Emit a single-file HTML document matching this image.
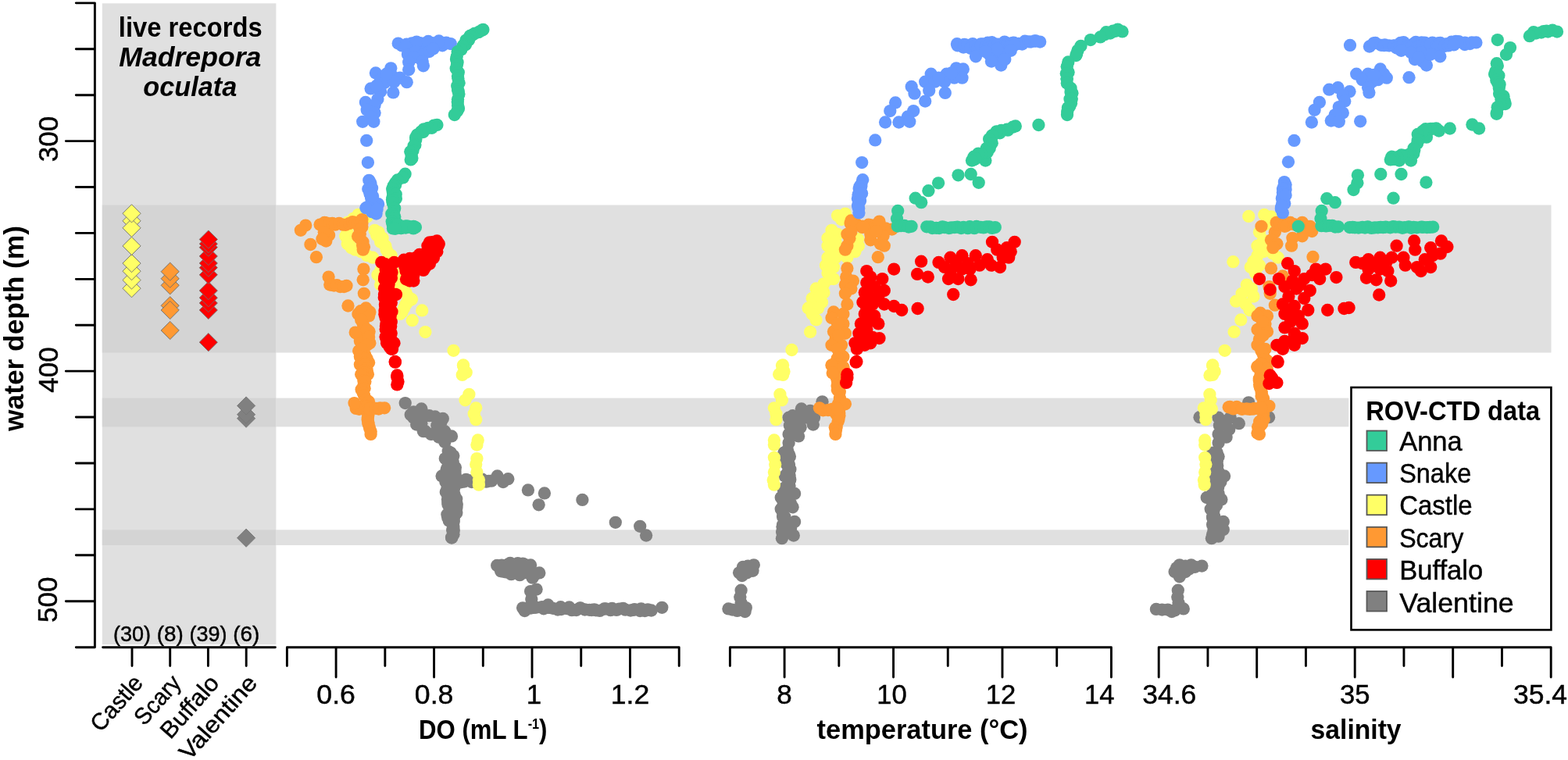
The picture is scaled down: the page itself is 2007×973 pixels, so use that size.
<!DOCTYPE html>
<html lang="en">
<head>
<meta charset="utf-8">
<title>ROV-CTD data: DO, temperature, salinity vs water depth</title>
<style>
html,body{margin:0;padding:0;background:#fff;}
body{width:2007px;height:973px;overflow:hidden;font-family:"Liberation Sans", sans-serif;}
svg{display:block;}
</style>
</head>
<body>
<svg width="2007" height="973" viewBox="0 0 2007 973" font-family='"Liberation Sans", sans-serif' fill="#000">
<rect x="0" y="0" width="2007" height="973" fill="#ffffff"/>
<rect x="353.5" y="262.5" width="1632.0" height="189.0" fill="#e0e0e0"/>
<rect x="353.5" y="509.6" width="1632.0" height="36.8" fill="#e0e0e0"/>
<rect x="353.5" y="678.3" width="1632.0" height="19.7" fill="#e0e0e0"/>
<rect x="130.8" y="4.3" width="222.6" height="820.9" fill="#e0e0e0"/>
<rect x="130.8" y="262.5" width="222.6" height="189.0" fill="#d4d4d4"/>
<rect x="130.8" y="509.6" width="222.6" height="36.8" fill="#d4d4d4"/>
<rect x="130.8" y="678.3" width="222.6" height="19.7" fill="#d4d4d4"/>
<g fill="#808080">
<circle cx="518.7" cy="516.1" r="8.15"/><circle cx="529.4" cy="527.3" r="8.15"/><circle cx="539.4" cy="523.5" r="8.15"/><circle cx="529.4" cy="534.7" r="8.15"/><circle cx="544.4" cy="532.2" r="8.15"/><circle cx="539.4" cy="542.2" r="8.15"/><circle cx="556.8" cy="533.5" r="8.15"/><circle cx="566.8" cy="536.0" r="8.15"/><circle cx="559.3" cy="544.7" r="8.15"/><circle cx="544.4" cy="552.2" r="8.15"/><circle cx="559.3" cy="554.7" r="8.15"/><circle cx="569.3" cy="552.2" r="8.15"/><circle cx="578.0" cy="558.4" r="8.15"/><circle cx="569.3" cy="565.9" r="8.15"/><circle cx="576.8" cy="579.6" r="8.15"/><circle cx="569.8" cy="587.1" r="8.15"/><circle cx="579.3" cy="594.5" r="8.15"/><circle cx="571.8" cy="602.0" r="8.15"/><circle cx="581.8" cy="602.0" r="8.15"/><circle cx="565.6" cy="609.5" r="8.15"/><circle cx="574.3" cy="614.5" r="8.15"/><circle cx="581.8" cy="619.4" r="8.15"/><circle cx="574.3" cy="629.4" r="8.15"/><circle cx="583.8" cy="639.4" r="8.15"/><circle cx="573.0" cy="639.4" r="8.15"/><circle cx="579.3" cy="651.8" r="8.15"/><circle cx="574.3" cy="661.8" r="8.15"/><circle cx="580.5" cy="666.8" r="8.15"/><circle cx="579.3" cy="679.2" r="8.15"/><circle cx="578.0" cy="688.0" r="8.15"/><circle cx="575.5" cy="621.9" r="8.15"/><circle cx="576.8" cy="646.8" r="8.15"/><circle cx="581.8" cy="617.0" r="8.15"/><circle cx="586.9" cy="617.0" r="8.15"/><circle cx="590.0" cy="617.3" r="8.15"/><circle cx="594.3" cy="616.5" r="8.15"/><circle cx="596.5" cy="613.8" r="8.15"/><circle cx="600.0" cy="615.1" r="8.15"/><circle cx="603.8" cy="617.0" r="8.15"/><circle cx="609.6" cy="616.2" r="8.15"/><circle cx="613.8" cy="616.4" r="8.15"/><circle cx="617.2" cy="613.7" r="8.15"/><circle cx="622.4" cy="616.7" r="8.15"/><circle cx="625.2" cy="615.8" r="8.15"/><circle cx="629.1" cy="615.7" r="8.15"/><circle cx="573.7" cy="577.8" r="8.15"/><circle cx="573.7" cy="582.9" r="8.15"/><circle cx="570.8" cy="587.2" r="8.15"/><circle cx="573.2" cy="591.2" r="8.15"/><circle cx="573.0" cy="598.6" r="8.15"/><circle cx="571.8" cy="600.5" r="8.15"/><circle cx="571.5" cy="605.9" r="8.15"/><circle cx="572.4" cy="609.9" r="8.15"/><circle cx="572.1" cy="612.1" r="8.15"/><circle cx="570.4" cy="617.0" r="8.15"/><circle cx="573.0" cy="621.5" r="8.15"/><circle cx="572.6" cy="624.6" r="8.15"/><circle cx="570.8" cy="629.9" r="8.15"/><circle cx="573.5" cy="635.9" r="8.15"/><circle cx="573.7" cy="638.5" r="8.15"/><circle cx="573.4" cy="643.1" r="8.15"/><circle cx="573.4" cy="645.7" r="8.15"/><circle cx="575.4" cy="649.9" r="8.15"/><circle cx="575.9" cy="656.8" r="8.15"/><circle cx="572.4" cy="658.8" r="8.15"/><circle cx="575.8" cy="664.7" r="8.15"/><circle cx="574.8" cy="666.8" r="8.15"/><circle cx="580.3" cy="583.6" r="8.15"/><circle cx="579.5" cy="590.2" r="8.15"/><circle cx="579.6" cy="592.6" r="8.15"/><circle cx="579.5" cy="596.3" r="8.15"/><circle cx="582.9" cy="598.6" r="8.15"/><circle cx="582.5" cy="604.0" r="8.15"/><circle cx="582.9" cy="608.6" r="8.15"/><circle cx="580.4" cy="613.3" r="8.15"/><circle cx="581.6" cy="613.7" r="8.15"/><circle cx="579.8" cy="619.4" r="8.15"/><circle cx="581.8" cy="622.8" r="8.15"/><circle cx="580.7" cy="627.1" r="8.15"/><circle cx="581.6" cy="633.3" r="8.15"/><circle cx="580.6" cy="637.1" r="8.15"/><circle cx="584.2" cy="638.7" r="8.15"/><circle cx="584.7" cy="645.2" r="8.15"/><circle cx="584.4" cy="647.5" r="8.15"/><circle cx="582.0" cy="651.9" r="8.15"/><circle cx="584.3" cy="656.7" r="8.15"/><circle cx="581.5" cy="660.0" r="8.15"/><circle cx="580.9" cy="662.5" r="8.15"/><circle cx="579.9" cy="669.6" r="8.15"/><circle cx="580.4" cy="674.0" r="8.15"/><circle cx="580.0" cy="675.3" r="8.15"/><circle cx="580.8" cy="679.0" r="8.15"/><circle cx="580.5" cy="684.2" r="8.15"/><circle cx="533.2" cy="543.5" r="8.15"/><circle cx="541.9" cy="552.2" r="8.15"/><circle cx="551.9" cy="555.9" r="8.15"/><circle cx="561.8" cy="559.7" r="8.15"/><circle cx="564.3" cy="541.0" r="8.15"/><circle cx="549.4" cy="532.2" r="8.15"/><circle cx="525.7" cy="531.0" r="8.15"/><circle cx="535.7" cy="534.7" r="8.15"/><circle cx="636.6" cy="609.5" r="8.15"/><circle cx="644.0" cy="617.0" r="8.15"/><circle cx="650.3" cy="613.2" r="8.15"/><circle cx="675.9" cy="627.4" r="8.15"/><circle cx="696.9" cy="631.4" r="8.15"/><circle cx="689.6" cy="646.3" r="8.15"/><circle cx="745.4" cy="639.9" r="8.15"/><circle cx="787.8" cy="668.8" r="8.15"/><circle cx="819.2" cy="673.8" r="8.15"/><circle cx="827.1" cy="685.5" r="8.15"/><circle cx="577.0" cy="645.0" r="8.15"/><circle cx="584.4" cy="650.0" r="8.15"/><circle cx="573.2" cy="662.4" r="8.15"/><circle cx="580.7" cy="667.4" r="8.15"/><circle cx="579.4" cy="677.4" r="8.15"/><circle cx="578.2" cy="688.6" r="8.15"/><circle cx="636.2" cy="724.0" r="8.15"/><circle cx="642.1" cy="723.6" r="8.15"/><circle cx="645.0" cy="724.1" r="8.15"/><circle cx="650.1" cy="722.7" r="8.15"/><circle cx="653.0" cy="720.9" r="8.15"/><circle cx="656.9" cy="722.6" r="8.15"/><circle cx="660.9" cy="723.5" r="8.15"/><circle cx="662.8" cy="721.2" r="8.15"/><circle cx="669.2" cy="721.6" r="8.15"/><circle cx="671.3" cy="722.6" r="8.15"/><circle cx="674.4" cy="724.3" r="8.15"/><circle cx="679.1" cy="723.5" r="8.15"/><circle cx="641.1" cy="731.2" r="8.15"/><circle cx="643.9" cy="731.7" r="8.15"/><circle cx="647.6" cy="732.4" r="8.15"/><circle cx="650.1" cy="731.8" r="8.15"/><circle cx="654.4" cy="735.2" r="8.15"/><circle cx="659.6" cy="732.8" r="8.15"/><circle cx="665.3" cy="736.2" r="8.15"/><circle cx="667.6" cy="733.1" r="8.15"/><circle cx="670.6" cy="733.3" r="8.15"/><circle cx="675.3" cy="733.6" r="8.15"/><circle cx="679.0" cy="734.6" r="8.15"/><circle cx="684.1" cy="735.9" r="8.15"/><circle cx="690.3" cy="733.4" r="8.15"/><circle cx="681.6" cy="739.7" r="8.15"/><circle cx="686.6" cy="754.6" r="8.15"/><circle cx="679.1" cy="757.1" r="8.15"/><circle cx="680.3" cy="767.1" r="8.15"/><circle cx="669.1" cy="778.3" r="8.15"/><circle cx="671.6" cy="782.0" r="8.15"/><circle cx="701.5" cy="774.5" r="8.15"/><circle cx="847.3" cy="777.8" r="8.15"/><circle cx="671.9" cy="779.8" r="8.15"/><circle cx="676.7" cy="778.0" r="8.15"/><circle cx="679.4" cy="778.5" r="8.15"/><circle cx="683.3" cy="777.9" r="8.15"/><circle cx="686.1" cy="777.7" r="8.15"/><circle cx="693.7" cy="777.2" r="8.15"/><circle cx="695.9" cy="779.3" r="8.15"/><circle cx="701.4" cy="777.7" r="8.15"/><circle cx="703.1" cy="777.9" r="8.15"/><circle cx="707.7" cy="778.8" r="8.15"/><circle cx="713.9" cy="780.5" r="8.15"/><circle cx="717.6" cy="777.2" r="8.15"/><circle cx="718.3" cy="780.1" r="8.15"/><circle cx="725.8" cy="779.2" r="8.15"/><circle cx="728.6" cy="777.4" r="8.15"/><circle cx="731.9" cy="781.2" r="8.15"/><circle cx="737.7" cy="781.0" r="8.15"/><circle cx="742.3" cy="778.6" r="8.15"/><circle cx="742.9" cy="778.3" r="8.15"/><circle cx="748.6" cy="780.5" r="8.15"/><circle cx="754.4" cy="780.8" r="8.15"/><circle cx="757.2" cy="781.0" r="8.15"/><circle cx="760.5" cy="780.3" r="8.15"/><circle cx="762.9" cy="781.3" r="8.15"/><circle cx="767.7" cy="781.9" r="8.15"/><circle cx="773.4" cy="779.5" r="8.15"/><circle cx="775.4" cy="779.4" r="8.15"/><circle cx="781.5" cy="781.2" r="8.15"/><circle cx="783.4" cy="778.8" r="8.15"/><circle cx="789.1" cy="780.9" r="8.15"/><circle cx="792.6" cy="779.6" r="8.15"/><circle cx="797.5" cy="778.8" r="8.15"/><circle cx="800.4" cy="780.7" r="8.15"/><circle cx="807.1" cy="781.5" r="8.15"/><circle cx="810.8" cy="780.9" r="8.15"/><circle cx="812.2" cy="780.1" r="8.15"/><circle cx="819.2" cy="782.0" r="8.15"/><circle cx="820.6" cy="779.3" r="8.15"/><circle cx="825.4" cy="782.0" r="8.15"/><circle cx="829.2" cy="780.5" r="8.15"/><circle cx="833.6" cy="781.5" r="8.15"/><circle cx="1052.5" cy="514.3" r="8.15"/><circle cx="1025.8" cy="523.5" r="8.15"/><circle cx="1037.0" cy="526.0" r="8.15"/><circle cx="1014.6" cy="532.2" r="8.15"/><circle cx="1009.6" cy="534.7" r="8.15"/><circle cx="1024.6" cy="534.7" r="8.15"/><circle cx="1042.0" cy="534.7" r="8.15"/><circle cx="1040.8" cy="543.5" r="8.15"/><circle cx="1010.9" cy="544.7" r="8.15"/><circle cx="1024.6" cy="547.2" r="8.15"/><circle cx="1009.6" cy="555.9" r="8.15"/><circle cx="1022.1" cy="558.4" r="8.15"/><circle cx="1009.6" cy="567.1" r="8.15"/><circle cx="1003.4" cy="579.6" r="8.15"/><circle cx="1010.9" cy="584.6" r="8.15"/><circle cx="1007.1" cy="594.5" r="8.15"/><circle cx="1009.6" cy="604.5" r="8.15"/><circle cx="1010.9" cy="614.5" r="8.15"/><circle cx="1004.6" cy="624.4" r="8.15"/><circle cx="1017.1" cy="631.9" r="8.15"/><circle cx="999.7" cy="636.9" r="8.15"/><circle cx="1012.1" cy="644.4" r="8.15"/><circle cx="999.7" cy="651.8" r="8.15"/><circle cx="1014.6" cy="649.3" r="8.15"/><circle cx="1002.1" cy="661.8" r="8.15"/><circle cx="1017.1" cy="668.0" r="8.15"/><circle cx="1002.1" cy="671.8" r="8.15"/><circle cx="1012.1" cy="676.7" r="8.15"/><circle cx="1015.8" cy="685.5" r="8.15"/><circle cx="1002.1" cy="684.2" r="8.15"/><circle cx="1000.9" cy="689.2" r="8.15"/><circle cx="1004.6" cy="609.5" r="8.15"/><circle cx="1007.1" cy="634.4" r="8.15"/><circle cx="1017.1" cy="542.2" r="8.15"/><circle cx="1032.0" cy="534.7" r="8.15"/><circle cx="1015.8" cy="552.2" r="8.15"/><circle cx="1007.9" cy="576.2" r="8.15"/><circle cx="1009.6" cy="581.3" r="8.15"/><circle cx="1008.1" cy="587.1" r="8.15"/><circle cx="1005.4" cy="591.6" r="8.15"/><circle cx="1008.8" cy="591.9" r="8.15"/><circle cx="1010.0" cy="594.9" r="8.15"/><circle cx="1011.4" cy="600.7" r="8.15"/><circle cx="1007.9" cy="605.6" r="8.15"/><circle cx="1008.6" cy="606.0" r="8.15"/><circle cx="1010.6" cy="609.0" r="8.15"/><circle cx="1011.3" cy="614.1" r="8.15"/><circle cx="1010.5" cy="622.3" r="8.15"/><circle cx="1008.9" cy="624.2" r="8.15"/><circle cx="1006.0" cy="623.9" r="8.15"/><circle cx="1003.1" cy="628.5" r="8.15"/><circle cx="1005.3" cy="634.0" r="8.15"/><circle cx="1004.6" cy="640.9" r="8.15"/><circle cx="1002.2" cy="641.1" r="8.15"/><circle cx="1005.2" cy="644.0" r="8.15"/><circle cx="1001.2" cy="650.1" r="8.15"/><circle cx="1001.8" cy="654.3" r="8.15"/><circle cx="1002.4" cy="659.8" r="8.15"/><circle cx="1004.4" cy="661.7" r="8.15"/><circle cx="1004.5" cy="667.5" r="8.15"/><circle cx="1001.5" cy="674.4" r="8.15"/><circle cx="1002.1" cy="673.8" r="8.15"/><circle cx="1001.1" cy="680.9" r="8.15"/><circle cx="1003.4" cy="684.2" r="8.15"/><circle cx="964.8" cy="723.3" r="8.15"/><circle cx="951.1" cy="725.8" r="8.15"/><circle cx="946.1" cy="733.3" r="8.15"/><circle cx="963.5" cy="730.8" r="8.15"/><circle cx="949.8" cy="737.0" r="8.15"/><circle cx="948.6" cy="755.7" r="8.15"/><circle cx="947.3" cy="764.4" r="8.15"/><circle cx="932.4" cy="779.4" r="8.15"/><circle cx="943.6" cy="781.9" r="8.15"/><circle cx="954.8" cy="778.1" r="8.15"/><circle cx="953.6" cy="783.1" r="8.15"/><circle cx="957.3" cy="724.6" r="8.15"/><circle cx="956.1" cy="733.3" r="8.15"/><circle cx="948.6" cy="771.9" r="8.15"/><circle cx="959.8" cy="728.3" r="8.15"/><circle cx="952.3" cy="730.8" r="8.15"/><circle cx="937.4" cy="780.6" r="8.15"/><circle cx="949.8" cy="780.6" r="8.15"/><circle cx="1598.2" cy="515.3" r="8.15"/><circle cx="1535.5" cy="534.2" r="8.15"/><circle cx="1624.1" cy="534.2" r="8.15"/><circle cx="1559.6" cy="534.7" r="8.15"/><circle cx="1574.6" cy="534.7" r="8.15"/><circle cx="1585.8" cy="542.2" r="8.15"/><circle cx="1560.9" cy="544.7" r="8.15"/><circle cx="1573.3" cy="549.7" r="8.15"/><circle cx="1559.6" cy="555.9" r="8.15"/><circle cx="1569.6" cy="559.7" r="8.15"/><circle cx="1559.6" cy="567.1" r="8.15"/><circle cx="1552.1" cy="579.6" r="8.15"/><circle cx="1559.6" cy="584.6" r="8.15"/><circle cx="1557.1" cy="594.5" r="8.15"/><circle cx="1559.6" cy="604.5" r="8.15"/><circle cx="1567.1" cy="609.5" r="8.15"/><circle cx="1559.6" cy="614.5" r="8.15"/><circle cx="1554.6" cy="624.4" r="8.15"/><circle cx="1544.7" cy="636.9" r="8.15"/><circle cx="1559.6" cy="631.9" r="8.15"/><circle cx="1563.4" cy="639.4" r="8.15"/><circle cx="1549.7" cy="651.8" r="8.15"/><circle cx="1552.1" cy="661.8" r="8.15"/><circle cx="1565.8" cy="668.0" r="8.15"/><circle cx="1552.1" cy="671.8" r="8.15"/><circle cx="1562.1" cy="676.7" r="8.15"/><circle cx="1565.8" cy="678.0" r="8.15"/><circle cx="1552.1" cy="684.2" r="8.15"/><circle cx="1550.9" cy="689.2" r="8.15"/><circle cx="1559.6" cy="686.7" r="8.15"/><circle cx="1557.1" cy="646.8" r="8.15"/><circle cx="1567.1" cy="539.7" r="8.15"/><circle cx="1556.8" cy="579.4" r="8.15"/><circle cx="1557.7" cy="579.5" r="8.15"/><circle cx="1556.0" cy="582.6" r="8.15"/><circle cx="1557.8" cy="586.0" r="8.15"/><circle cx="1557.8" cy="590.4" r="8.15"/><circle cx="1558.2" cy="596.3" r="8.15"/><circle cx="1558.7" cy="602.4" r="8.15"/><circle cx="1555.8" cy="606.1" r="8.15"/><circle cx="1558.7" cy="608.3" r="8.15"/><circle cx="1560.2" cy="613.8" r="8.15"/><circle cx="1558.6" cy="615.1" r="8.15"/><circle cx="1562.4" cy="616.9" r="8.15"/><circle cx="1559.2" cy="624.0" r="8.15"/><circle cx="1554.3" cy="627.6" r="8.15"/><circle cx="1557.0" cy="633.2" r="8.15"/><circle cx="1553.6" cy="637.3" r="8.15"/><circle cx="1554.6" cy="638.4" r="8.15"/><circle cx="1556.8" cy="639.9" r="8.15"/><circle cx="1555.6" cy="647.6" r="8.15"/><circle cx="1553.3" cy="653.2" r="8.15"/><circle cx="1553.3" cy="655.0" r="8.15"/><circle cx="1554.2" cy="660.9" r="8.15"/><circle cx="1552.2" cy="663.1" r="8.15"/><circle cx="1553.3" cy="667.9" r="8.15"/><circle cx="1555.7" cy="670.5" r="8.15"/><circle cx="1555.6" cy="675.3" r="8.15"/><circle cx="1553.5" cy="678.7" r="8.15"/><circle cx="1553.4" cy="684.2" r="8.15"/><circle cx="1553.4" cy="586.5" r="8.15"/><circle cx="1554.1" cy="589.6" r="8.15"/><circle cx="1553.0" cy="591.6" r="8.15"/><circle cx="1553.0" cy="596.5" r="8.15"/><circle cx="1554.5" cy="601.2" r="8.15"/><circle cx="1552.2" cy="604.8" r="8.15"/><circle cx="1555.8" cy="608.0" r="8.15"/><circle cx="1552.6" cy="610.9" r="8.15"/><circle cx="1552.5" cy="614.3" r="8.15"/><circle cx="1556.3" cy="619.9" r="8.15"/><circle cx="1554.3" cy="624.6" r="8.15"/><circle cx="1554.3" cy="627.9" r="8.15"/><circle cx="1552.1" cy="631.9" r="8.15"/><circle cx="1551.4" cy="635.8" r="8.15"/><circle cx="1549.7" cy="639.4" r="8.15"/><circle cx="1538.4" cy="724.6" r="8.15"/><circle cx="1524.7" cy="723.3" r="8.15"/><circle cx="1509.8" cy="723.3" r="8.15"/><circle cx="1503.6" cy="732.0" r="8.15"/><circle cx="1517.3" cy="732.0" r="8.15"/><circle cx="1509.8" cy="738.3" r="8.15"/><circle cx="1507.8" cy="755.7" r="8.15"/><circle cx="1507.3" cy="764.4" r="8.15"/><circle cx="1479.9" cy="779.9" r="8.15"/><circle cx="1494.8" cy="780.6" r="8.15"/><circle cx="1509.8" cy="778.1" r="8.15"/><circle cx="1514.8" cy="779.4" r="8.15"/><circle cx="1499.8" cy="783.1" r="8.15"/><circle cx="1529.7" cy="725.8" r="8.15"/><circle cx="1508.5" cy="771.9" r="8.15"/><circle cx="1517.3" cy="724.6" r="8.15"/><circle cx="1511.0" cy="729.5" r="8.15"/><circle cx="1506.1" cy="727.1" r="8.15"/><circle cx="1522.2" cy="728.3" r="8.15"/><circle cx="1503.6" cy="781.4" r="8.15"/><circle cx="1487.4" cy="780.6" r="8.15"/>
</g>
<g fill="#ffff66">
<circle cx="452.2" cy="279.9" r="8.15"/><circle cx="464.7" cy="273.6" r="8.15"/><circle cx="442.2" cy="302.3" r="8.15"/><circle cx="444.7" cy="312.2" r="8.15"/><circle cx="454.7" cy="319.7" r="8.15"/><circle cx="482.1" cy="301.0" r="8.15"/><circle cx="487.1" cy="309.8" r="8.15"/><circle cx="494.6" cy="319.7" r="8.15"/><circle cx="500.8" cy="327.2" r="8.15"/><circle cx="483.4" cy="352.1" r="8.15"/><circle cx="487.1" cy="364.6" r="8.15"/><circle cx="513.2" cy="357.1" r="8.15"/><circle cx="522.0" cy="379.5" r="8.15"/><circle cx="519.5" cy="389.5" r="8.15"/><circle cx="509.5" cy="357.1" r="8.15"/><circle cx="527.0" cy="383.2" r="8.15"/><circle cx="512.0" cy="401.9" r="8.15"/><circle cx="517.0" cy="372.0" r="8.15"/><circle cx="458.4" cy="274.9" r="8.15"/><circle cx="444.7" cy="284.8" r="8.15"/><circle cx="469.7" cy="277.4" r="8.15"/><circle cx="444.7" cy="297.3" r="8.15"/><circle cx="447.2" cy="307.3" r="8.15"/><circle cx="449.7" cy="317.2" r="8.15"/><circle cx="462.2" cy="322.2" r="8.15"/><circle cx="469.7" cy="327.2" r="8.15"/><circle cx="477.1" cy="329.7" r="8.15"/><circle cx="479.6" cy="294.8" r="8.15"/><circle cx="484.6" cy="297.3" r="8.15"/><circle cx="489.6" cy="304.8" r="8.15"/><circle cx="493.3" cy="314.7" r="8.15"/><circle cx="497.1" cy="324.7" r="8.15"/><circle cx="499.5" cy="332.2" r="8.15"/><circle cx="487.1" cy="347.1" r="8.15"/><circle cx="488.3" cy="359.6" r="8.15"/><circle cx="504.5" cy="349.6" r="8.15"/><circle cx="509.5" cy="364.6" r="8.15"/><circle cx="519.5" cy="374.5" r="8.15"/><circle cx="524.5" cy="384.5" r="8.15"/><circle cx="517.0" cy="394.5" r="8.15"/><circle cx="514.5" cy="399.4" r="8.15"/><circle cx="540.2" cy="397.4" r="8.15"/><circle cx="527.7" cy="410.2" r="8.15"/><circle cx="544.4" cy="425.1" r="8.15"/><circle cx="580.5" cy="448.8" r="8.15"/><circle cx="593.0" cy="468.0" r="8.15"/><circle cx="596.7" cy="476.7" r="8.15"/><circle cx="593.0" cy="467.5" r="8.15"/><circle cx="594.2" cy="474.9" r="8.15"/><circle cx="591.7" cy="479.9" r="8.15"/><circle cx="600.4" cy="504.8" r="8.15"/><circle cx="595.5" cy="512.3" r="8.15"/><circle cx="609.2" cy="522.3" r="8.15"/><circle cx="606.7" cy="529.8" r="8.15"/><circle cx="609.2" cy="537.2" r="8.15"/><circle cx="611.7" cy="563.4" r="8.15"/><circle cx="610.4" cy="569.6" r="8.15"/><circle cx="610.4" cy="587.1" r="8.15"/><circle cx="609.2" cy="594.5" r="8.15"/><circle cx="610.4" cy="604.5" r="8.15"/><circle cx="612.9" cy="614.5" r="8.15"/><circle cx="612.9" cy="620.7" r="8.15"/><circle cx="1098.1" cy="306.0" r="8.15"/><circle cx="1098.9" cy="314.7" r="8.15"/><circle cx="1094.4" cy="322.2" r="8.15"/><circle cx="1072.0" cy="276.1" r="8.15"/><circle cx="1081.9" cy="273.6" r="8.15"/><circle cx="1077.0" cy="281.1" r="8.15"/><circle cx="1064.5" cy="294.8" r="8.15"/><circle cx="1072.0" cy="299.8" r="8.15"/><circle cx="1059.5" cy="304.8" r="8.15"/><circle cx="1059.5" cy="314.7" r="8.15"/><circle cx="1067.0" cy="319.7" r="8.15"/><circle cx="1079.4" cy="322.2" r="8.15"/><circle cx="1084.4" cy="329.7" r="8.15"/><circle cx="1059.5" cy="329.7" r="8.15"/><circle cx="1057.0" cy="339.7" r="8.15"/><circle cx="1067.0" cy="342.1" r="8.15"/><circle cx="1059.5" cy="349.6" r="8.15"/><circle cx="1067.0" cy="357.1" r="8.15"/><circle cx="1054.5" cy="363.3" r="8.15"/><circle cx="1044.6" cy="369.5" r="8.15"/><circle cx="1054.5" cy="374.5" r="8.15"/><circle cx="1039.6" cy="382.0" r="8.15"/><circle cx="1052.0" cy="387.0" r="8.15"/><circle cx="1034.6" cy="394.5" r="8.15"/><circle cx="1047.1" cy="394.5" r="8.15"/><circle cx="1039.6" cy="401.9" r="8.15"/><circle cx="1044.6" cy="409.4" r="8.15"/><circle cx="1037.1" cy="424.9" r="8.15"/><circle cx="1013.4" cy="448.0" r="8.15"/><circle cx="1001.0" cy="468.0" r="8.15"/><circle cx="1003.5" cy="475.4" r="8.15"/><circle cx="997.2" cy="479.2" r="8.15"/><circle cx="1069.5" cy="309.8" r="8.15"/><circle cx="1069.5" cy="329.7" r="8.15"/><circle cx="1062.0" cy="357.1" r="8.15"/><circle cx="1049.5" cy="379.5" r="8.15"/><circle cx="1002.1" cy="467.5" r="8.15"/><circle cx="1000.9" cy="474.9" r="8.15"/><circle cx="1002.1" cy="479.9" r="8.15"/><circle cx="998.4" cy="504.8" r="8.15"/><circle cx="1000.9" cy="512.3" r="8.15"/><circle cx="990.9" cy="522.3" r="8.15"/><circle cx="993.4" cy="529.8" r="8.15"/><circle cx="993.4" cy="537.2" r="8.15"/><circle cx="990.9" cy="563.4" r="8.15"/><circle cx="990.9" cy="569.6" r="8.15"/><circle cx="990.9" cy="585.8" r="8.15"/><circle cx="992.2" cy="594.5" r="8.15"/><circle cx="990.9" cy="604.5" r="8.15"/><circle cx="989.7" cy="614.5" r="8.15"/><circle cx="990.9" cy="620.7" r="8.15"/><circle cx="1598.3" cy="276.9" r="8.15"/><circle cx="1618.2" cy="274.9" r="8.15"/><circle cx="1627.0" cy="277.4" r="8.15"/><circle cx="1612.0" cy="297.3" r="8.15"/><circle cx="1617.0" cy="307.3" r="8.15"/><circle cx="1609.5" cy="314.7" r="8.15"/><circle cx="1617.0" cy="322.2" r="8.15"/><circle cx="1629.4" cy="324.7" r="8.15"/><circle cx="1635.7" cy="329.7" r="8.15"/><circle cx="1609.5" cy="327.2" r="8.15"/><circle cx="1578.4" cy="335.2" r="8.15"/><circle cx="1600.8" cy="342.1" r="8.15"/><circle cx="1612.0" cy="339.7" r="8.15"/><circle cx="1595.8" cy="364.6" r="8.15"/><circle cx="1602.0" cy="369.5" r="8.15"/><circle cx="1589.6" cy="375.8" r="8.15"/><circle cx="1604.5" cy="379.5" r="8.15"/><circle cx="1582.1" cy="385.7" r="8.15"/><circle cx="1594.6" cy="389.5" r="8.15"/><circle cx="1599.5" cy="397.0" r="8.15"/><circle cx="1588.3" cy="409.4" r="8.15"/><circle cx="1579.6" cy="424.9" r="8.15"/><circle cx="1567.7" cy="448.8" r="8.15"/><circle cx="1552.2" cy="468.0" r="8.15"/><circle cx="1554.7" cy="475.4" r="8.15"/><circle cx="1548.5" cy="480.4" r="8.15"/><circle cx="1619.5" cy="287.3" r="8.15"/><circle cx="1622.0" cy="317.2" r="8.15"/><circle cx="1604.5" cy="334.7" r="8.15"/><circle cx="1607.0" cy="349.6" r="8.15"/><circle cx="1552.1" cy="467.5" r="8.15"/><circle cx="1553.4" cy="474.9" r="8.15"/><circle cx="1552.1" cy="479.9" r="8.15"/><circle cx="1548.4" cy="504.8" r="8.15"/><circle cx="1549.7" cy="512.3" r="8.15"/><circle cx="1540.9" cy="522.3" r="8.15"/><circle cx="1550.9" cy="523.5" r="8.15"/><circle cx="1543.4" cy="531.0" r="8.15"/><circle cx="1543.4" cy="537.2" r="8.15"/><circle cx="1542.2" cy="563.4" r="8.15"/><circle cx="1542.2" cy="569.6" r="8.15"/><circle cx="1542.2" cy="585.8" r="8.15"/><circle cx="1543.4" cy="594.5" r="8.15"/><circle cx="1542.2" cy="604.5" r="8.15"/><circle cx="1540.9" cy="614.5" r="8.15"/><circle cx="1541.7" cy="620.7" r="8.15"/>
</g>
<g fill="#ff9933">
<circle cx="409.6" cy="287.6" r="8.15"/><circle cx="415.3" cy="284.9" r="8.15"/><circle cx="417.1" cy="285.3" r="8.15"/><circle cx="421.2" cy="286.4" r="8.15"/><circle cx="425.4" cy="285.8" r="8.15"/><circle cx="429.0" cy="287.7" r="8.15"/><circle cx="434.0" cy="285.9" r="8.15"/><circle cx="439.0" cy="287.7" r="8.15"/><circle cx="442.5" cy="287.8" r="8.15"/><circle cx="446.9" cy="286.2" r="8.15"/><circle cx="451.2" cy="284.2" r="8.15"/><circle cx="454.9" cy="284.8" r="8.15"/><circle cx="457.3" cy="287.3" r="8.15"/><circle cx="463.4" cy="286.1" r="8.15"/><circle cx="421.1" cy="301.0" r="8.15"/><circle cx="417.3" cy="308.5" r="8.15"/><circle cx="463.4" cy="281.1" r="8.15"/><circle cx="391.2" cy="288.6" r="8.15"/><circle cx="384.9" cy="294.8" r="8.15"/><circle cx="397.4" cy="313.0" r="8.15"/><circle cx="404.9" cy="329.2" r="8.15"/><circle cx="414.8" cy="297.3" r="8.15"/><circle cx="412.4" cy="306.0" r="8.15"/><circle cx="420.6" cy="354.6" r="8.15"/><circle cx="422.3" cy="364.6" r="8.15"/><circle cx="445.5" cy="391.5" r="8.15"/><circle cx="462.1" cy="286.0" r="8.15"/><circle cx="463.4" cy="290.4" r="8.15"/><circle cx="460.9" cy="294.3" r="8.15"/><circle cx="460.8" cy="299.4" r="8.15"/><circle cx="458.1" cy="302.5" r="8.15"/><circle cx="460.5" cy="305.1" r="8.15"/><circle cx="464.5" cy="309.8" r="8.15"/><circle cx="464.1" cy="314.1" r="8.15"/><circle cx="465.9" cy="316.2" r="8.15"/><circle cx="464.7" cy="319.7" r="8.15"/><circle cx="465.4" cy="344.6" r="8.15"/><circle cx="464.7" cy="358.3" r="8.15"/><circle cx="465.9" cy="375.8" r="8.15"/><circle cx="424.0" cy="364.6" r="8.15"/><circle cx="427.6" cy="365.6" r="8.15"/><circle cx="431.3" cy="365.2" r="8.15"/><circle cx="435.4" cy="367.1" r="8.15"/><circle cx="440.3" cy="367.1" r="8.15"/><circle cx="443.5" cy="365.8" r="8.15"/><circle cx="458.4" cy="401.9" r="8.15"/><circle cx="473.4" cy="399.4" r="8.15"/><circle cx="464.7" cy="414.4" r="8.15"/><circle cx="464.7" cy="429.3" r="8.15"/><circle cx="472.6" cy="424.4" r="8.15"/><circle cx="473.4" cy="439.3" r="8.15"/><circle cx="459.2" cy="449.3" r="8.15"/><circle cx="467.2" cy="454.3" r="8.15"/><circle cx="472.1" cy="464.2" r="8.15"/><circle cx="469.7" cy="459.2" r="8.15"/><circle cx="460.9" cy="466.7" r="8.15"/><circle cx="470.9" cy="479.2" r="8.15"/><circle cx="455.9" cy="426.8" r="8.15"/><circle cx="460.9" cy="436.8" r="8.15"/><circle cx="468.4" cy="394.5" r="8.15"/><circle cx="461.7" cy="398.2" r="8.15"/><circle cx="464.7" cy="399.4" r="8.15"/><circle cx="472.1" cy="404.4" r="8.15"/><circle cx="462.2" cy="409.4" r="8.15"/><circle cx="454.7" cy="425.6" r="8.15"/><circle cx="469.7" cy="421.9" r="8.15"/><circle cx="472.1" cy="431.8" r="8.15"/><circle cx="469.7" cy="441.8" r="8.15"/><circle cx="462.2" cy="446.8" r="8.15"/><circle cx="460.9" cy="456.7" r="8.15"/><circle cx="465.9" cy="469.2" r="8.15"/><circle cx="469.7" cy="474.2" r="8.15"/><circle cx="462.2" cy="479.2" r="8.15"/><circle cx="467.2" cy="459.7" r="8.15"/><circle cx="466.7" cy="464.7" r="8.15"/><circle cx="467.1" cy="466.7" r="8.15"/><circle cx="469.2" cy="471.9" r="8.15"/><circle cx="466.5" cy="474.6" r="8.15"/><circle cx="466.7" cy="477.2" r="8.15"/><circle cx="464.3" cy="479.3" r="8.15"/><circle cx="464.1" cy="481.8" r="8.15"/><circle cx="465.4" cy="487.5" r="8.15"/><circle cx="467.4" cy="488.5" r="8.15"/><circle cx="465.1" cy="494.6" r="8.15"/><circle cx="466.6" cy="497.2" r="8.15"/><circle cx="462.6" cy="498.8" r="8.15"/><circle cx="464.7" cy="503.0" r="8.15"/><circle cx="466.2" cy="506.3" r="8.15"/><circle cx="468.7" cy="511.7" r="8.15"/><circle cx="472.0" cy="514.2" r="8.15"/><circle cx="469.5" cy="520.0" r="8.15"/><circle cx="470.1" cy="521.7" r="8.15"/><circle cx="469.3" cy="526.0" r="8.15"/><circle cx="471.6" cy="530.6" r="8.15"/><circle cx="470.9" cy="534.8" r="8.15"/><circle cx="470.6" cy="537.1" r="8.15"/><circle cx="471.3" cy="541.0" r="8.15"/><circle cx="471.6" cy="542.8" r="8.15"/><circle cx="473.0" cy="547.4" r="8.15"/><circle cx="474.6" cy="552.3" r="8.15"/><circle cx="474.6" cy="555.9" r="8.15"/><circle cx="455.7" cy="522.9" r="8.15"/><circle cx="459.7" cy="523.8" r="8.15"/><circle cx="462.6" cy="521.6" r="8.15"/><circle cx="469.1" cy="520.9" r="8.15"/><circle cx="472.2" cy="522.9" r="8.15"/><circle cx="473.6" cy="523.6" r="8.15"/><circle cx="481.2" cy="522.8" r="8.15"/><circle cx="484.7" cy="523.5" r="8.15"/><circle cx="486.5" cy="522.4" r="8.15"/><circle cx="492.1" cy="522.3" r="8.15"/><circle cx="453.5" cy="516.1" r="8.15"/><circle cx="1088.6" cy="285.7" r="8.15"/><circle cx="1089.4" cy="287.3" r="8.15"/><circle cx="1094.8" cy="287.6" r="8.15"/><circle cx="1096.8" cy="287.4" r="8.15"/><circle cx="1103.7" cy="291.1" r="8.15"/><circle cx="1104.2" cy="289.9" r="8.15"/><circle cx="1111.7" cy="287.7" r="8.15"/><circle cx="1116.0" cy="288.5" r="8.15"/><circle cx="1118.7" cy="291.1" r="8.15"/><circle cx="1122.8" cy="290.4" r="8.15"/><circle cx="1125.7" cy="292.2" r="8.15"/><circle cx="1129.6" cy="293.0" r="8.15"/><circle cx="1133.6" cy="292.4" r="8.15"/><circle cx="1135.4" cy="293.7" r="8.15"/><circle cx="1141.7" cy="293.6" r="8.15"/><circle cx="1125.5" cy="283.6" r="8.15"/><circle cx="1089.4" cy="282.4" r="8.15"/><circle cx="1084.4" cy="299.8" r="8.15"/><circle cx="1087.4" cy="305.3" r="8.15"/><circle cx="1084.4" cy="314.7" r="8.15"/><circle cx="1081.9" cy="319.7" r="8.15"/><circle cx="1089.4" cy="296.8" r="8.15"/><circle cx="1114.3" cy="307.3" r="8.15"/><circle cx="1130.5" cy="302.3" r="8.15"/><circle cx="1126.8" cy="312.2" r="8.15"/><circle cx="1131.8" cy="314.7" r="8.15"/><circle cx="1114.3" cy="299.8" r="8.15"/><circle cx="1123.8" cy="329.2" r="8.15"/><circle cx="1104.4" cy="289.8" r="8.15"/><circle cx="1121.8" cy="296.1" r="8.15"/><circle cx="1084.4" cy="343.4" r="8.15"/><circle cx="1083.2" cy="354.6" r="8.15"/><circle cx="1091.9" cy="359.6" r="8.15"/><circle cx="1081.9" cy="364.6" r="8.15"/><circle cx="1089.4" cy="369.5" r="8.15"/><circle cx="1081.9" cy="375.8" r="8.15"/><circle cx="1084.4" cy="389.5" r="8.15"/><circle cx="1067.0" cy="399.4" r="8.15"/><circle cx="1079.4" cy="401.9" r="8.15"/><circle cx="1064.5" cy="406.9" r="8.15"/><circle cx="1079.4" cy="414.4" r="8.15"/><circle cx="1067.0" cy="424.4" r="8.15"/><circle cx="1081.9" cy="426.8" r="8.15"/><circle cx="1069.5" cy="434.3" r="8.15"/><circle cx="1077.0" cy="441.8" r="8.15"/><circle cx="1064.5" cy="441.8" r="8.15"/><circle cx="1074.5" cy="451.8" r="8.15"/><circle cx="1079.4" cy="456.7" r="8.15"/><circle cx="1069.5" cy="464.2" r="8.15"/><circle cx="1067.0" cy="470.4" r="8.15"/><circle cx="1079.4" cy="471.7" r="8.15"/><circle cx="1074.5" cy="479.2" r="8.15"/><circle cx="1072.0" cy="414.4" r="8.15"/><circle cx="1073.2" cy="429.3" r="8.15"/><circle cx="1072.0" cy="446.8" r="8.15"/><circle cx="1071.8" cy="458.7" r="8.15"/><circle cx="1074.0" cy="465.6" r="8.15"/><circle cx="1073.4" cy="466.7" r="8.15"/><circle cx="1074.3" cy="470.5" r="8.15"/><circle cx="1071.3" cy="476.3" r="8.15"/><circle cx="1069.9" cy="480.5" r="8.15"/><circle cx="1070.7" cy="482.6" r="8.15"/><circle cx="1071.6" cy="486.6" r="8.15"/><circle cx="1072.4" cy="493.8" r="8.15"/><circle cx="1071.6" cy="493.9" r="8.15"/><circle cx="1071.9" cy="499.2" r="8.15"/><circle cx="1074.8" cy="501.8" r="8.15"/><circle cx="1074.9" cy="509.8" r="8.15"/><circle cx="1074.9" cy="512.6" r="8.15"/><circle cx="1072.9" cy="517.2" r="8.15"/><circle cx="1073.9" cy="521.1" r="8.15"/><circle cx="1075.5" cy="521.1" r="8.15"/><circle cx="1074.3" cy="528.9" r="8.15"/><circle cx="1070.2" cy="530.0" r="8.15"/><circle cx="1073.2" cy="533.0" r="8.15"/><circle cx="1073.5" cy="536.9" r="8.15"/><circle cx="1072.6" cy="539.6" r="8.15"/><circle cx="1070.7" cy="546.8" r="8.15"/><circle cx="1068.8" cy="547.3" r="8.15"/><circle cx="1069.9" cy="551.3" r="8.15"/><circle cx="1069.4" cy="555.9" r="8.15"/><circle cx="1064.4" cy="467.5" r="8.15"/><circle cx="1079.4" cy="470.0" r="8.15"/><circle cx="1081.9" cy="517.3" r="8.15"/><circle cx="1074.4" cy="532.2" r="8.15"/><circle cx="1065.7" cy="477.4" r="8.15"/><circle cx="1048.9" cy="522.3" r="8.15"/><circle cx="1053.6" cy="525.3" r="8.15"/><circle cx="1059.9" cy="525.1" r="8.15"/><circle cx="1062.1" cy="524.7" r="8.15"/><circle cx="1066.1" cy="523.7" r="8.15"/><circle cx="1071.9" cy="523.5" r="8.15"/><circle cx="1614.5" cy="289.8" r="8.15"/><circle cx="1666.8" cy="284.8" r="8.15"/><circle cx="1679.3" cy="296.1" r="8.15"/><circle cx="1666.8" cy="302.3" r="8.15"/><circle cx="1654.4" cy="304.8" r="8.15"/><circle cx="1653.1" cy="314.7" r="8.15"/><circle cx="1631.9" cy="297.3" r="8.15"/><circle cx="1627.0" cy="307.3" r="8.15"/><circle cx="1634.4" cy="312.2" r="8.15"/><circle cx="1629.4" cy="317.2" r="8.15"/><circle cx="1680.5" cy="328.9" r="8.15"/><circle cx="1644.4" cy="289.8" r="8.15"/><circle cx="1674.3" cy="292.3" r="8.15"/><circle cx="1633.6" cy="285.0" r="8.15"/><circle cx="1635.6" cy="287.5" r="8.15"/><circle cx="1638.6" cy="286.7" r="8.15"/><circle cx="1643.6" cy="287.5" r="8.15"/><circle cx="1646.4" cy="289.1" r="8.15"/><circle cx="1651.6" cy="284.9" r="8.15"/><circle cx="1655.3" cy="287.1" r="8.15"/><circle cx="1658.0" cy="287.6" r="8.15"/><circle cx="1664.1" cy="289.5" r="8.15"/><circle cx="1667.9" cy="287.7" r="8.15"/><circle cx="1671.3" cy="290.6" r="8.15"/><circle cx="1676.8" cy="289.8" r="8.15"/><circle cx="1627.0" cy="343.4" r="8.15"/><circle cx="1641.9" cy="353.4" r="8.15"/><circle cx="1624.5" cy="367.1" r="8.15"/><circle cx="1625.7" cy="375.8" r="8.15"/><circle cx="1631.9" cy="390.7" r="8.15"/><circle cx="1613.2" cy="400.7" r="8.15"/><circle cx="1622.0" cy="404.4" r="8.15"/><circle cx="1609.5" cy="404.4" r="8.15"/><circle cx="1619.5" cy="414.4" r="8.15"/><circle cx="1609.5" cy="421.9" r="8.15"/><circle cx="1622.0" cy="424.4" r="8.15"/><circle cx="1612.0" cy="434.3" r="8.15"/><circle cx="1609.5" cy="441.8" r="8.15"/><circle cx="1619.5" cy="446.8" r="8.15"/><circle cx="1617.0" cy="454.3" r="8.15"/><circle cx="1622.0" cy="461.7" r="8.15"/><circle cx="1609.5" cy="469.2" r="8.15"/><circle cx="1619.5" cy="471.7" r="8.15"/><circle cx="1614.5" cy="479.2" r="8.15"/><circle cx="1615.7" cy="411.9" r="8.15"/><circle cx="1617.0" cy="429.3" r="8.15"/><circle cx="1614.5" cy="449.3" r="8.15"/><circle cx="1617.9" cy="460.1" r="8.15"/><circle cx="1614.0" cy="465.2" r="8.15"/><circle cx="1614.5" cy="466.0" r="8.15"/><circle cx="1612.9" cy="472.6" r="8.15"/><circle cx="1616.0" cy="475.6" r="8.15"/><circle cx="1613.6" cy="479.0" r="8.15"/><circle cx="1611.8" cy="484.7" r="8.15"/><circle cx="1611.8" cy="486.9" r="8.15"/><circle cx="1613.5" cy="491.5" r="8.15"/><circle cx="1612.1" cy="492.6" r="8.15"/><circle cx="1612.8" cy="495.5" r="8.15"/><circle cx="1614.5" cy="500.4" r="8.15"/><circle cx="1614.9" cy="503.7" r="8.15"/><circle cx="1614.6" cy="506.9" r="8.15"/><circle cx="1617.0" cy="509.9" r="8.15"/><circle cx="1616.9" cy="515.9" r="8.15"/><circle cx="1617.6" cy="517.5" r="8.15"/><circle cx="1616.9" cy="522.7" r="8.15"/><circle cx="1616.8" cy="527.5" r="8.15"/><circle cx="1617.2" cy="530.1" r="8.15"/><circle cx="1617.8" cy="536.5" r="8.15"/><circle cx="1612.2" cy="539.7" r="8.15"/><circle cx="1615.2" cy="542.8" r="8.15"/><circle cx="1610.1" cy="546.4" r="8.15"/><circle cx="1612.6" cy="546.0" r="8.15"/><circle cx="1609.5" cy="554.4" r="8.15"/><circle cx="1611.9" cy="555.9" r="8.15"/><circle cx="1609.4" cy="470.0" r="8.15"/><circle cx="1621.9" cy="472.5" r="8.15"/><circle cx="1624.4" cy="519.8" r="8.15"/><circle cx="1572.7" cy="521.3" r="8.15"/><circle cx="1574.3" cy="520.9" r="8.15"/><circle cx="1578.7" cy="523.4" r="8.15"/><circle cx="1583.0" cy="520.9" r="8.15"/><circle cx="1589.1" cy="523.4" r="8.15"/><circle cx="1590.0" cy="523.8" r="8.15"/><circle cx="1595.6" cy="523.4" r="8.15"/><circle cx="1599.7" cy="523.9" r="8.15"/><circle cx="1604.0" cy="523.6" r="8.15"/><circle cx="1605.5" cy="523.1" r="8.15"/><circle cx="1610.7" cy="523.2" r="8.15"/><circle cx="1614.4" cy="522.3" r="8.15"/>
</g>
<g fill="#ff0000">
<circle cx="547.4" cy="314.7" r="8.15"/><circle cx="555.6" cy="317.2" r="8.15"/><circle cx="561.8" cy="312.2" r="8.15"/><circle cx="549.9" cy="310.3" r="8.15"/><circle cx="517.0" cy="332.7" r="8.15"/><circle cx="531.9" cy="330.2" r="8.15"/><circle cx="541.9" cy="335.2" r="8.15"/><circle cx="549.9" cy="337.7" r="8.15"/><circle cx="554.9" cy="330.2" r="8.15"/><circle cx="522.5" cy="342.6" r="8.15"/><circle cx="532.4" cy="345.1" r="8.15"/><circle cx="541.9" cy="345.9" r="8.15"/><circle cx="525.0" cy="355.1" r="8.15"/><circle cx="520.0" cy="357.6" r="8.15"/><circle cx="559.3" cy="308.5" r="8.15"/><circle cx="553.1" cy="324.7" r="8.15"/><circle cx="545.6" cy="323.5" r="8.15"/><circle cx="536.9" cy="325.9" r="8.15"/><circle cx="528.2" cy="335.9" r="8.15"/><circle cx="518.2" cy="340.9" r="8.15"/><circle cx="529.4" cy="359.6" r="8.15"/><circle cx="501.5" cy="348.6" r="8.15"/><circle cx="499.8" cy="355.6" r="8.15"/><circle cx="500.9" cy="356.0" r="8.15"/><circle cx="497.7" cy="361.3" r="8.15"/><circle cx="497.5" cy="364.4" r="8.15"/><circle cx="497.4" cy="370.3" r="8.15"/><circle cx="500.5" cy="375.3" r="8.15"/><circle cx="497.7" cy="378.5" r="8.15"/><circle cx="499.9" cy="379.9" r="8.15"/><circle cx="500.8" cy="387.5" r="8.15"/><circle cx="497.8" cy="391.5" r="8.15"/><circle cx="498.7" cy="393.5" r="8.15"/><circle cx="501.5" cy="399.1" r="8.15"/><circle cx="497.9" cy="401.5" r="8.15"/><circle cx="499.6" cy="405.1" r="8.15"/><circle cx="498.3" cy="409.1" r="8.15"/><circle cx="500.8" cy="411.9" r="8.15"/><circle cx="500.2" cy="417.9" r="8.15"/><circle cx="497.9" cy="421.5" r="8.15"/><circle cx="500.7" cy="426.4" r="8.15"/><circle cx="498.4" cy="432.5" r="8.15"/><circle cx="501.7" cy="436.6" r="8.15"/><circle cx="498.8" cy="437.6" r="8.15"/><circle cx="498.6" cy="443.9" r="8.15"/><circle cx="500.8" cy="446.8" r="8.15"/><circle cx="493.1" cy="338.2" r="8.15"/><circle cx="493.7" cy="345.3" r="8.15"/><circle cx="495.2" cy="346.7" r="8.15"/><circle cx="492.5" cy="353.3" r="8.15"/><circle cx="494.1" cy="356.4" r="8.15"/><circle cx="492.2" cy="357.8" r="8.15"/><circle cx="494.5" cy="363.3" r="8.15"/><circle cx="492.0" cy="369.3" r="8.15"/><circle cx="494.2" cy="372.7" r="8.15"/><circle cx="492.0" cy="377.0" r="8.15"/><circle cx="491.8" cy="381.0" r="8.15"/><circle cx="493.5" cy="382.9" r="8.15"/><circle cx="494.0" cy="389.2" r="8.15"/><circle cx="492.9" cy="390.0" r="8.15"/><circle cx="494.1" cy="394.4" r="8.15"/><circle cx="492.5" cy="398.1" r="8.15"/><circle cx="492.4" cy="402.2" r="8.15"/><circle cx="493.5" cy="406.6" r="8.15"/><circle cx="495.4" cy="410.6" r="8.15"/><circle cx="494.5" cy="414.1" r="8.15"/><circle cx="494.0" cy="417.4" r="8.15"/><circle cx="493.7" cy="421.4" r="8.15"/><circle cx="495.7" cy="427.5" r="8.15"/><circle cx="493.6" cy="431.2" r="8.15"/><circle cx="496.7" cy="433.7" r="8.15"/><circle cx="495.1" cy="439.3" r="8.15"/><circle cx="554.4" cy="309.8" r="8.15"/><circle cx="560.6" cy="314.7" r="8.15"/><circle cx="559.3" cy="322.2" r="8.15"/><circle cx="549.4" cy="327.2" r="8.15"/><circle cx="539.4" cy="329.7" r="8.15"/><circle cx="524.5" cy="330.9" r="8.15"/><circle cx="519.5" cy="337.2" r="8.15"/><circle cx="529.4" cy="339.7" r="8.15"/><circle cx="544.4" cy="342.1" r="8.15"/><circle cx="519.5" cy="347.1" r="8.15"/><circle cx="529.4" cy="352.1" r="8.15"/><circle cx="524.5" cy="359.6" r="8.15"/><circle cx="534.4" cy="334.7" r="8.15"/><circle cx="551.9" cy="319.7" r="8.15"/><circle cx="488.3" cy="335.9" r="8.15"/><circle cx="504.5" cy="335.9" r="8.15"/><circle cx="495.8" cy="344.6" r="8.15"/><circle cx="492.1" cy="357.1" r="8.15"/><circle cx="494.6" cy="369.5" r="8.15"/><circle cx="507.0" cy="377.0" r="8.15"/><circle cx="495.8" cy="384.5" r="8.15"/><circle cx="494.6" cy="399.4" r="8.15"/><circle cx="497.1" cy="414.4" r="8.15"/><circle cx="499.5" cy="426.8" r="8.15"/><circle cx="494.6" cy="434.3" r="8.15"/><circle cx="504.5" cy="439.3" r="8.15"/><circle cx="502.0" cy="446.8" r="8.15"/><circle cx="493.3" cy="392.0" r="8.15"/><circle cx="495.8" cy="406.9" r="8.15"/><circle cx="505.8" cy="463.0" r="8.15"/><circle cx="508.3" cy="480.4" r="8.15"/><circle cx="505.8" cy="463.7" r="8.15"/><circle cx="508.3" cy="482.4" r="8.15"/><circle cx="509.5" cy="488.6" r="8.15"/><circle cx="508.3" cy="492.4" r="8.15"/><circle cx="1109.3" cy="347.1" r="8.15"/><circle cx="1114.3" cy="354.6" r="8.15"/><circle cx="1129.3" cy="357.1" r="8.15"/><circle cx="1109.3" cy="362.1" r="8.15"/><circle cx="1119.3" cy="367.1" r="8.15"/><circle cx="1131.8" cy="372.0" r="8.15"/><circle cx="1106.8" cy="374.5" r="8.15"/><circle cx="1124.3" cy="379.5" r="8.15"/><circle cx="1104.4" cy="387.0" r="8.15"/><circle cx="1116.8" cy="389.5" r="8.15"/><circle cx="1131.8" cy="389.5" r="8.15"/><circle cx="1144.2" cy="392.0" r="8.15"/><circle cx="1154.2" cy="397.0" r="8.15"/><circle cx="1174.6" cy="395.0" r="8.15"/><circle cx="1106.8" cy="401.9" r="8.15"/><circle cx="1119.3" cy="404.4" r="8.15"/><circle cx="1101.9" cy="414.4" r="8.15"/><circle cx="1124.3" cy="414.4" r="8.15"/><circle cx="1109.3" cy="421.9" r="8.15"/><circle cx="1099.4" cy="426.8" r="8.15"/><circle cx="1116.8" cy="431.8" r="8.15"/><circle cx="1125.5" cy="433.1" r="8.15"/><circle cx="1094.4" cy="439.3" r="8.15"/><circle cx="1106.8" cy="441.8" r="8.15"/><circle cx="1114.3" cy="439.3" r="8.15"/><circle cx="1096.9" cy="446.8" r="8.15"/><circle cx="1096.4" cy="463.0" r="8.15"/><circle cx="1084.4" cy="479.2" r="8.15"/><circle cx="1144.2" cy="344.6" r="8.15"/><circle cx="1111.8" cy="379.5" r="8.15"/><circle cx="1109.3" cy="394.5" r="8.15"/><circle cx="1111.8" cy="411.9" r="8.15"/><circle cx="1104.4" cy="434.3" r="8.15"/><circle cx="1179.1" cy="334.7" r="8.15"/><circle cx="1174.1" cy="350.9" r="8.15"/><circle cx="1187.8" cy="354.6" r="8.15"/><circle cx="1201.5" cy="335.9" r="8.15"/><circle cx="1209.0" cy="342.1" r="8.15"/><circle cx="1216.5" cy="329.7" r="8.15"/><circle cx="1231.4" cy="327.2" r="8.15"/><circle cx="1248.8" cy="327.2" r="8.15"/><circle cx="1216.5" cy="347.1" r="8.15"/><circle cx="1231.4" cy="344.6" r="8.15"/><circle cx="1226.4" cy="357.1" r="8.15"/><circle cx="1214.0" cy="357.1" r="8.15"/><circle cx="1242.6" cy="358.3" r="8.15"/><circle cx="1253.8" cy="339.7" r="8.15"/><circle cx="1268.8" cy="339.7" r="8.15"/><circle cx="1280.0" cy="342.1" r="8.15"/><circle cx="1283.7" cy="329.7" r="8.15"/><circle cx="1291.2" cy="329.7" r="8.15"/><circle cx="1276.3" cy="319.7" r="8.15"/><circle cx="1288.7" cy="317.2" r="8.15"/><circle cx="1270.0" cy="309.8" r="8.15"/><circle cx="1298.7" cy="309.8" r="8.15"/><circle cx="1293.7" cy="322.2" r="8.15"/><circle cx="1263.8" cy="332.2" r="8.15"/><circle cx="1238.9" cy="337.2" r="8.15"/><circle cx="1220.2" cy="377.0" r="8.15"/><circle cx="1223.9" cy="337.2" r="8.15"/><circle cx="1241.4" cy="344.6" r="8.15"/><circle cx="1095.6" cy="463.7" r="8.15"/><circle cx="1084.4" cy="483.7" r="8.15"/><circle cx="1083.1" cy="489.9" r="8.15"/><circle cx="1648.1" cy="337.2" r="8.15"/><circle cx="1656.8" cy="347.1" r="8.15"/><circle cx="1612.0" cy="357.1" r="8.15"/><circle cx="1636.9" cy="357.1" r="8.15"/><circle cx="1625.7" cy="370.8" r="8.15"/><circle cx="1684.3" cy="344.6" r="8.15"/><circle cx="1696.7" cy="344.6" r="8.15"/><circle cx="1710.4" cy="355.1" r="8.15"/><circle cx="1689.2" cy="357.1" r="8.15"/><circle cx="1669.3" cy="357.1" r="8.15"/><circle cx="1654.4" cy="359.6" r="8.15"/><circle cx="1644.4" cy="367.1" r="8.15"/><circle cx="1659.3" cy="369.5" r="8.15"/><circle cx="1676.8" cy="372.0" r="8.15"/><circle cx="1649.4" cy="379.5" r="8.15"/><circle cx="1669.3" cy="382.0" r="8.15"/><circle cx="1641.9" cy="389.5" r="8.15"/><circle cx="1656.8" cy="392.0" r="8.15"/><circle cx="1674.3" cy="397.0" r="8.15"/><circle cx="1644.4" cy="401.9" r="8.15"/><circle cx="1661.8" cy="404.4" r="8.15"/><circle cx="1651.9" cy="411.9" r="8.15"/><circle cx="1666.8" cy="414.4" r="8.15"/><circle cx="1644.4" cy="419.4" r="8.15"/><circle cx="1656.8" cy="426.8" r="8.15"/><circle cx="1666.8" cy="433.1" r="8.15"/><circle cx="1644.4" cy="436.8" r="8.15"/><circle cx="1634.4" cy="441.8" r="8.15"/><circle cx="1656.8" cy="441.8" r="8.15"/><circle cx="1641.9" cy="446.8" r="8.15"/><circle cx="1699.2" cy="397.0" r="8.15"/><circle cx="1720.4" cy="395.0" r="8.15"/><circle cx="1726.6" cy="394.0" r="8.15"/><circle cx="1635.2" cy="462.5" r="8.15"/><circle cx="1625.7" cy="480.4" r="8.15"/><circle cx="1679.3" cy="352.1" r="8.15"/><circle cx="1664.3" cy="364.6" r="8.15"/><circle cx="1651.9" cy="397.0" r="8.15"/><circle cx="1655.6" cy="434.3" r="8.15"/><circle cx="1735.3" cy="335.9" r="8.15"/><circle cx="1751.5" cy="332.2" r="8.15"/><circle cx="1766.5" cy="329.7" r="8.15"/><circle cx="1781.4" cy="329.7" r="8.15"/><circle cx="1796.4" cy="329.7" r="8.15"/><circle cx="1751.5" cy="344.6" r="8.15"/><circle cx="1766.5" cy="344.6" r="8.15"/><circle cx="1776.4" cy="347.1" r="8.15"/><circle cx="1749.0" cy="355.8" r="8.15"/><circle cx="1761.5" cy="358.3" r="8.15"/><circle cx="1780.2" cy="359.6" r="8.15"/><circle cx="1798.8" cy="339.7" r="8.15"/><circle cx="1813.8" cy="342.1" r="8.15"/><circle cx="1818.8" cy="347.1" r="8.15"/><circle cx="1831.2" cy="342.1" r="8.15"/><circle cx="1787.6" cy="314.7" r="8.15"/><circle cx="1810.1" cy="308.5" r="8.15"/><circle cx="1811.3" cy="319.7" r="8.15"/><circle cx="1831.2" cy="317.2" r="8.15"/><circle cx="1844.9" cy="308.5" r="8.15"/><circle cx="1852.4" cy="316.0" r="8.15"/><circle cx="1843.7" cy="324.7" r="8.15"/><circle cx="1833.7" cy="327.2" r="8.15"/><circle cx="1823.8" cy="332.2" r="8.15"/><circle cx="1765.2" cy="377.5" r="8.15"/><circle cx="1759.0" cy="337.2" r="8.15"/><circle cx="1773.9" cy="337.2" r="8.15"/><circle cx="1744.0" cy="337.2" r="8.15"/><circle cx="1635.6" cy="463.7" r="8.15"/><circle cx="1628.1" cy="483.7" r="8.15"/><circle cx="1634.4" cy="489.9" r="8.15"/><circle cx="1624.4" cy="491.1" r="8.15"/>
</g>
<g fill="#6699ff">
<circle cx="509.7" cy="55.6" r="8.15"/><circle cx="514.6" cy="58.4" r="8.15"/><circle cx="518.5" cy="58.4" r="8.15"/><circle cx="520.5" cy="56.7" r="8.15"/><circle cx="523.4" cy="57.6" r="8.15"/><circle cx="527.2" cy="55.3" r="8.15"/><circle cx="531.8" cy="55.6" r="8.15"/><circle cx="536.3" cy="55.1" r="8.15"/><circle cx="538.9" cy="55.4" r="8.15"/><circle cx="543.3" cy="56.2" r="8.15"/><circle cx="547.0" cy="58.1" r="8.15"/><circle cx="553.3" cy="55.2" r="8.15"/><circle cx="555.9" cy="55.9" r="8.15"/><circle cx="560.3" cy="54.9" r="8.15"/><circle cx="566.2" cy="58.3" r="8.15"/><circle cx="568.7" cy="56.2" r="8.15"/><circle cx="571.1" cy="54.6" r="8.15"/><circle cx="576.8" cy="56.1" r="8.15"/><circle cx="533.2" cy="53.6" r="8.15"/><circle cx="548.1" cy="52.9" r="8.15"/><circle cx="561.8" cy="52.4" r="8.15"/><circle cx="519.5" cy="59.9" r="8.15"/><circle cx="522.0" cy="69.8" r="8.15"/><circle cx="531.9" cy="66.1" r="8.15"/><circle cx="541.9" cy="69.8" r="8.15"/><circle cx="549.4" cy="66.1" r="8.15"/><circle cx="554.4" cy="62.4" r="8.15"/><circle cx="529.4" cy="73.6" r="8.15"/><circle cx="523.2" cy="79.8" r="8.15"/><circle cx="523.2" cy="89.3" r="8.15"/><circle cx="540.7" cy="78.5" r="8.15"/><circle cx="541.9" cy="84.3" r="8.15"/><circle cx="500.3" cy="87.3" r="8.15"/><circle cx="480.9" cy="93.5" r="8.15"/><circle cx="502.0" cy="97.2" r="8.15"/><circle cx="512.0" cy="99.7" r="8.15"/><circle cx="520.7" cy="105.2" r="8.15"/><circle cx="487.1" cy="102.2" r="8.15"/><circle cx="492.1" cy="105.9" r="8.15"/><circle cx="504.5" cy="104.7" r="8.15"/><circle cx="474.6" cy="113.4" r="8.15"/><circle cx="487.1" cy="117.2" r="8.15"/><circle cx="503.3" cy="118.4" r="8.15"/><circle cx="483.4" cy="127.1" r="8.15"/><circle cx="467.9" cy="130.9" r="8.15"/><circle cx="479.6" cy="134.6" r="8.15"/><circle cx="469.7" cy="140.8" r="8.15"/><circle cx="479.6" cy="144.6" r="8.15"/><circle cx="474.6" cy="149.5" r="8.15"/><circle cx="464.2" cy="155.8" r="8.15"/><circle cx="478.4" cy="155.8" r="8.15"/><circle cx="482.1" cy="109.7" r="8.15"/><circle cx="494.6" cy="94.7" r="8.15"/><circle cx="469.2" cy="179.9" r="8.15"/><circle cx="470.9" cy="208.1" r="8.15"/><circle cx="472.3" cy="230.8" r="8.15"/><circle cx="474.4" cy="234.6" r="8.15"/><circle cx="471.3" cy="241.9" r="8.15"/><circle cx="473.5" cy="242.8" r="8.15"/><circle cx="474.8" cy="245.6" r="8.15"/><circle cx="476.0" cy="252.8" r="8.15"/><circle cx="477.1" cy="254.2" r="8.15"/><circle cx="476.1" cy="240.8" r="8.15"/><circle cx="474.0" cy="243.2" r="8.15"/><circle cx="473.9" cy="248.6" r="8.15"/><circle cx="475.7" cy="252.3" r="8.15"/><circle cx="475.2" cy="253.8" r="8.15"/><circle cx="479.6" cy="260.6" r="8.15"/><circle cx="482.3" cy="263.6" r="8.15"/><circle cx="480.3" cy="267.7" r="8.15"/><circle cx="476.0" cy="271.2" r="8.15"/><circle cx="481.6" cy="273.6" r="8.15"/><circle cx="470.9" cy="264.9" r="8.15"/><circle cx="468.4" cy="266.2" r="8.15"/><circle cx="484.1" cy="261.2" r="8.15"/><circle cx="482.6" cy="267.9" r="8.15"/><circle cx="473.4" cy="247.5" r="8.15"/><circle cx="477.1" cy="251.2" r="8.15"/><circle cx="1225.0" cy="56.2" r="8.15"/><circle cx="1225.5" cy="58.3" r="8.15"/><circle cx="1233.1" cy="60.5" r="8.15"/><circle cx="1234.3" cy="56.8" r="8.15"/><circle cx="1238.5" cy="57.8" r="8.15"/><circle cx="1245.0" cy="56.1" r="8.15"/><circle cx="1248.4" cy="58.7" r="8.15"/><circle cx="1252.5" cy="58.7" r="8.15"/><circle cx="1255.4" cy="56.3" r="8.15"/><circle cx="1258.0" cy="56.3" r="8.15"/><circle cx="1264.3" cy="54.7" r="8.15"/><circle cx="1265.4" cy="57.8" r="8.15"/><circle cx="1269.7" cy="54.2" r="8.15"/><circle cx="1272.6" cy="56.5" r="8.15"/><circle cx="1278.1" cy="58.4" r="8.15"/><circle cx="1284.9" cy="58.3" r="8.15"/><circle cx="1285.8" cy="53.6" r="8.15"/><circle cx="1289.0" cy="55.5" r="8.15"/><circle cx="1296.1" cy="55.0" r="8.15"/><circle cx="1297.7" cy="54.7" r="8.15"/><circle cx="1303.7" cy="55.8" r="8.15"/><circle cx="1308.3" cy="56.5" r="8.15"/><circle cx="1311.9" cy="52.7" r="8.15"/><circle cx="1316.8" cy="53.3" r="8.15"/><circle cx="1319.5" cy="53.6" r="8.15"/><circle cx="1324.3" cy="52.5" r="8.15"/><circle cx="1325.9" cy="52.5" r="8.15"/><circle cx="1331.2" cy="53.6" r="8.15"/><circle cx="1242.2" cy="61.8" r="8.15"/><circle cx="1248.3" cy="58.8" r="8.15"/><circle cx="1251.3" cy="62.0" r="8.15"/><circle cx="1255.8" cy="58.0" r="8.15"/><circle cx="1261.2" cy="59.9" r="8.15"/><circle cx="1266.0" cy="57.0" r="8.15"/><circle cx="1267.3" cy="60.4" r="8.15"/><circle cx="1273.1" cy="60.7" r="8.15"/><circle cx="1273.0" cy="57.4" r="8.15"/><circle cx="1277.3" cy="56.7" r="8.15"/><circle cx="1285.5" cy="58.5" r="8.15"/><circle cx="1289.2" cy="57.3" r="8.15"/><circle cx="1292.8" cy="57.5" r="8.15"/><circle cx="1293.7" cy="58.9" r="8.15"/><circle cx="1298.8" cy="57.4" r="8.15"/><circle cx="1249.0" cy="72.3" r="8.15"/><circle cx="1266.4" cy="69.8" r="8.15"/><circle cx="1273.9" cy="74.8" r="8.15"/><circle cx="1281.3" cy="83.5" r="8.15"/><circle cx="1268.9" cy="78.5" r="8.15"/><circle cx="1283.8" cy="69.8" r="8.15"/><circle cx="1293.8" cy="64.8" r="8.15"/><circle cx="1276.4" cy="62.4" r="8.15"/><circle cx="1261.4" cy="66.1" r="8.15"/><circle cx="1286.3" cy="76.1" r="8.15"/><circle cx="1224.0" cy="87.3" r="8.15"/><circle cx="1232.8" cy="88.5" r="8.15"/><circle cx="1231.5" cy="99.7" r="8.15"/><circle cx="1221.5" cy="99.7" r="8.15"/><circle cx="1211.6" cy="94.7" r="8.15"/><circle cx="1209.1" cy="104.7" r="8.15"/><circle cx="1191.7" cy="94.7" r="8.15"/><circle cx="1184.2" cy="104.7" r="8.15"/><circle cx="1196.6" cy="104.7" r="8.15"/><circle cx="1189.2" cy="115.9" r="8.15"/><circle cx="1209.8" cy="118.9" r="8.15"/><circle cx="1166.7" cy="110.9" r="8.15"/><circle cx="1170.5" cy="119.7" r="8.15"/><circle cx="1184.2" cy="129.6" r="8.15"/><circle cx="1146.1" cy="131.4" r="8.15"/><circle cx="1139.3" cy="142.1" r="8.15"/><circle cx="1169.2" cy="142.1" r="8.15"/><circle cx="1161.8" cy="149.5" r="8.15"/><circle cx="1133.1" cy="156.5" r="8.15"/><circle cx="1150.5" cy="156.5" r="8.15"/><circle cx="1164.3" cy="155.8" r="8.15"/><circle cx="1201.6" cy="99.7" r="8.15"/><circle cx="1217.8" cy="93.5" r="8.15"/><circle cx="1120.2" cy="179.4" r="8.15"/><circle cx="1103.2" cy="208.1" r="8.15"/><circle cx="1104.2" cy="230.2" r="8.15"/><circle cx="1102.4" cy="236.0" r="8.15"/><circle cx="1100.5" cy="238.7" r="8.15"/><circle cx="1099.7" cy="241.8" r="8.15"/><circle cx="1099.7" cy="247.1" r="8.15"/><circle cx="1100.9" cy="249.7" r="8.15"/><circle cx="1097.9" cy="254.3" r="8.15"/><circle cx="1099.5" cy="259.2" r="8.15"/><circle cx="1102.3" cy="238.4" r="8.15"/><circle cx="1100.2" cy="242.3" r="8.15"/><circle cx="1102.5" cy="247.7" r="8.15"/><circle cx="1098.6" cy="249.2" r="8.15"/><circle cx="1100.1" cy="255.2" r="8.15"/><circle cx="1101.0" cy="257.3" r="8.15"/><circle cx="1098.3" cy="264.6" r="8.15"/><circle cx="1099.2" cy="266.9" r="8.15"/><circle cx="1099.4" cy="272.4" r="8.15"/><circle cx="1103.1" cy="247.5" r="8.15"/><circle cx="1098.1" cy="262.4" r="8.15"/><circle cx="1728.0" cy="57.9" r="8.15"/><circle cx="1752.9" cy="59.5" r="8.15"/><circle cx="1758.1" cy="55.5" r="8.15"/><circle cx="1760.4" cy="54.9" r="8.15"/><circle cx="1767.7" cy="57.8" r="8.15"/><circle cx="1771.7" cy="58.2" r="8.15"/><circle cx="1772.5" cy="57.4" r="8.15"/><circle cx="1777.9" cy="58.4" r="8.15"/><circle cx="1784.2" cy="58.7" r="8.15"/><circle cx="1784.4" cy="58.5" r="8.15"/><circle cx="1792.6" cy="58.8" r="8.15"/><circle cx="1792.5" cy="55.0" r="8.15"/><circle cx="1796.5" cy="54.1" r="8.15"/><circle cx="1804.1" cy="57.9" r="8.15"/><circle cx="1807.0" cy="57.9" r="8.15"/><circle cx="1810.9" cy="55.1" r="8.15"/><circle cx="1812.2" cy="54.0" r="8.15"/><circle cx="1819.5" cy="54.5" r="8.15"/><circle cx="1821.2" cy="55.5" r="8.15"/><circle cx="1823.7" cy="54.6" r="8.15"/><circle cx="1829.0" cy="56.8" r="8.15"/><circle cx="1833.4" cy="54.7" r="8.15"/><circle cx="1840.3" cy="55.5" r="8.15"/><circle cx="1843.7" cy="56.0" r="8.15"/><circle cx="1843.5" cy="54.9" r="8.15"/><circle cx="1849.5" cy="56.6" r="8.15"/><circle cx="1853.0" cy="56.2" r="8.15"/><circle cx="1857.9" cy="53.7" r="8.15"/><circle cx="1863.5" cy="52.9" r="8.15"/><circle cx="1867.3" cy="53.3" r="8.15"/><circle cx="1867.1" cy="53.3" r="8.15"/><circle cx="1874.9" cy="57.1" r="8.15"/><circle cx="1875.1" cy="54.6" r="8.15"/><circle cx="1881.5" cy="56.0" r="8.15"/><circle cx="1883.9" cy="54.4" r="8.15"/><circle cx="1889.4" cy="54.4" r="8.15"/><circle cx="1787.8" cy="61.5" r="8.15"/><circle cx="1791.3" cy="61.9" r="8.15"/><circle cx="1795.5" cy="58.2" r="8.15"/><circle cx="1801.6" cy="59.4" r="8.15"/><circle cx="1802.6" cy="60.0" r="8.15"/><circle cx="1806.5" cy="60.6" r="8.15"/><circle cx="1813.6" cy="60.5" r="8.15"/><circle cx="1817.3" cy="58.2" r="8.15"/><circle cx="1820.1" cy="58.2" r="8.15"/><circle cx="1826.6" cy="56.5" r="8.15"/><circle cx="1830.6" cy="56.1" r="8.15"/><circle cx="1831.2" cy="57.2" r="8.15"/><circle cx="1838.7" cy="58.2" r="8.15"/><circle cx="1840.1" cy="60.0" r="8.15"/><circle cx="1843.4" cy="57.7" r="8.15"/><circle cx="1848.9" cy="59.1" r="8.15"/><circle cx="1854.0" cy="58.4" r="8.15"/><circle cx="1856.0" cy="56.6" r="8.15"/><circle cx="1860.8" cy="57.4" r="8.15"/><circle cx="1793.5" cy="64.8" r="8.15"/><circle cx="1810.9" cy="76.1" r="8.15"/><circle cx="1820.9" cy="78.5" r="8.15"/><circle cx="1825.9" cy="83.5" r="8.15"/><circle cx="1830.9" cy="69.8" r="8.15"/><circle cx="1843.3" cy="72.3" r="8.15"/><circle cx="1818.4" cy="67.3" r="8.15"/><circle cx="1806.0" cy="67.3" r="8.15"/><circle cx="1815.9" cy="73.6" r="8.15"/><circle cx="1766.8" cy="88.5" r="8.15"/><circle cx="1771.1" cy="94.7" r="8.15"/><circle cx="1774.8" cy="99.7" r="8.15"/><circle cx="1736.2" cy="94.7" r="8.15"/><circle cx="1751.1" cy="94.7" r="8.15"/><circle cx="1743.7" cy="102.2" r="8.15"/><circle cx="1756.1" cy="104.7" r="8.15"/><circle cx="1763.6" cy="102.2" r="8.15"/><circle cx="1751.1" cy="112.2" r="8.15"/><circle cx="1752.4" cy="118.4" r="8.15"/><circle cx="1803.5" cy="99.2" r="8.15"/><circle cx="1712.5" cy="112.2" r="8.15"/><circle cx="1701.3" cy="114.7" r="8.15"/><circle cx="1727.5" cy="117.2" r="8.15"/><circle cx="1718.8" cy="122.1" r="8.15"/><circle cx="1721.3" cy="129.6" r="8.15"/><circle cx="1713.8" cy="137.1" r="8.15"/><circle cx="1718.8" cy="144.6" r="8.15"/><circle cx="1708.8" cy="147.1" r="8.15"/><circle cx="1703.8" cy="154.5" r="8.15"/><circle cx="1713.8" cy="155.8" r="8.15"/><circle cx="1688.9" cy="130.9" r="8.15"/><circle cx="1682.6" cy="140.8" r="8.15"/><circle cx="1678.9" cy="156.5" r="8.15"/><circle cx="1741.2" cy="155.3" r="8.15"/><circle cx="1758.6" cy="96.0" r="8.15"/><circle cx="1656.5" cy="179.9" r="8.15"/><circle cx="1649.0" cy="207.3" r="8.15"/><circle cx="1643.9" cy="233.1" r="8.15"/><circle cx="1645.6" cy="236.5" r="8.15"/><circle cx="1643.3" cy="239.0" r="8.15"/><circle cx="1645.4" cy="243.3" r="8.15"/><circle cx="1642.5" cy="246.6" r="8.15"/><circle cx="1644.7" cy="249.8" r="8.15"/><circle cx="1641.1" cy="254.2" r="8.15"/><circle cx="1641.5" cy="259.2" r="8.15"/><circle cx="1645.4" cy="241.7" r="8.15"/><circle cx="1642.0" cy="242.0" r="8.15"/><circle cx="1641.9" cy="246.6" r="8.15"/><circle cx="1642.6" cy="249.5" r="8.15"/><circle cx="1641.0" cy="253.4" r="8.15"/><circle cx="1644.3" cy="260.5" r="8.15"/><circle cx="1639.9" cy="266.0" r="8.15"/><circle cx="1639.9" cy="267.4" r="8.15"/><circle cx="1641.9" cy="272.4" r="8.15"/><circle cx="1645.6" cy="250.0" r="8.15"/><circle cx="1640.7" cy="263.7" r="8.15"/>
</g>
<g fill="#33cc99">
<circle cx="618.4" cy="38.0" r="8.15"/><circle cx="616.4" cy="38.9" r="8.15"/><circle cx="612.6" cy="41.2" r="8.15"/><circle cx="607.4" cy="42.9" r="8.15"/><circle cx="604.4" cy="45.0" r="8.15"/><circle cx="601.6" cy="45.9" r="8.15"/><circle cx="600.1" cy="51.2" r="8.15"/><circle cx="596.4" cy="51.6" r="8.15"/><circle cx="596.0" cy="57.3" r="8.15"/><circle cx="593.3" cy="57.9" r="8.15"/><circle cx="592.4" cy="59.3" r="8.15"/><circle cx="590.3" cy="63.6" r="8.15"/><circle cx="585.7" cy="66.2" r="8.15"/><circle cx="584.7" cy="72.3" r="8.15"/><circle cx="584.0" cy="76.0" r="8.15"/><circle cx="585.6" cy="79.7" r="8.15"/><circle cx="584.9" cy="83.0" r="8.15"/><circle cx="583.7" cy="87.7" r="8.15"/><circle cx="586.8" cy="92.8" r="8.15"/><circle cx="586.0" cy="97.6" r="8.15"/><circle cx="586.4" cy="100.6" r="8.15"/><circle cx="587.6" cy="106.3" r="8.15"/><circle cx="585.2" cy="110.0" r="8.15"/><circle cx="586.1" cy="115.3" r="8.15"/><circle cx="586.7" cy="117.1" r="8.15"/><circle cx="587.4" cy="120.6" r="8.15"/><circle cx="586.0" cy="127.3" r="8.15"/><circle cx="585.8" cy="130.4" r="8.15"/><circle cx="586.1" cy="135.3" r="8.15"/><circle cx="587.0" cy="139.0" r="8.15"/><circle cx="585.3" cy="142.2" r="8.15"/><circle cx="581.8" cy="147.1" r="8.15"/><circle cx="559.4" cy="159.9" r="8.15"/><circle cx="555.4" cy="160.6" r="8.15"/><circle cx="552.8" cy="163.8" r="8.15"/><circle cx="547.8" cy="163.9" r="8.15"/><circle cx="542.6" cy="165.3" r="8.15"/><circle cx="541.7" cy="169.0" r="8.15"/><circle cx="539.0" cy="168.6" r="8.15"/><circle cx="534.0" cy="172.6" r="8.15"/><circle cx="532.1" cy="176.0" r="8.15"/><circle cx="532.3" cy="178.7" r="8.15"/><circle cx="531.4" cy="185.5" r="8.15"/><circle cx="529.6" cy="186.7" r="8.15"/><circle cx="528.6" cy="192.6" r="8.15"/><circle cx="525.3" cy="194.2" r="8.15"/><circle cx="526.7" cy="199.2" r="8.15"/><circle cx="527.4" cy="202.5" r="8.15"/><circle cx="525.7" cy="204.4" r="8.15"/><circle cx="518.6" cy="222.7" r="8.15"/><circle cx="515.8" cy="227.4" r="8.15"/><circle cx="515.1" cy="227.2" r="8.15"/><circle cx="508.8" cy="230.4" r="8.15"/><circle cx="506.0" cy="234.2" r="8.15"/><circle cx="506.1" cy="237.0" r="8.15"/><circle cx="502.5" cy="241.4" r="8.15"/><circle cx="502.8" cy="245.7" r="8.15"/><circle cx="504.7" cy="249.5" r="8.15"/><circle cx="502.5" cy="252.6" r="8.15"/><circle cx="502.0" cy="255.4" r="8.15"/><circle cx="503.8" cy="237.7" r="8.15"/><circle cx="502.3" cy="241.9" r="8.15"/><circle cx="503.4" cy="246.9" r="8.15"/><circle cx="506.7" cy="248.7" r="8.15"/><circle cx="506.6" cy="254.3" r="8.15"/><circle cx="506.7" cy="254.3" r="8.15"/><circle cx="502.9" cy="256.6" r="8.15"/><circle cx="502.6" cy="259.5" r="8.15"/><circle cx="504.4" cy="265.8" r="8.15"/><circle cx="505.2" cy="266.8" r="8.15"/><circle cx="504.0" cy="271.3" r="8.15"/><circle cx="501.3" cy="273.8" r="8.15"/><circle cx="505.3" cy="277.5" r="8.15"/><circle cx="504.5" cy="279.1" r="8.15"/><circle cx="501.7" cy="283.7" r="8.15"/><circle cx="502.5" cy="286.7" r="8.15"/><circle cx="505.5" cy="287.7" r="8.15"/><circle cx="503.3" cy="291.1" r="8.15"/><circle cx="503.0" cy="292.4" r="8.15"/><circle cx="506.8" cy="290.1" r="8.15"/><circle cx="507.9" cy="290.0" r="8.15"/><circle cx="513.1" cy="292.0" r="8.15"/><circle cx="513.7" cy="292.1" r="8.15"/><circle cx="519.0" cy="291.5" r="8.15"/><circle cx="520.0" cy="291.2" r="8.15"/><circle cx="522.2" cy="289.6" r="8.15"/><circle cx="527.6" cy="291.5" r="8.15"/><circle cx="529.1" cy="292.4" r="8.15"/><circle cx="531.9" cy="291.1" r="8.15"/><circle cx="509.5" cy="287.3" r="8.15"/><circle cx="519.5" cy="289.3" r="8.15"/><circle cx="529.4" cy="289.8" r="8.15"/><circle cx="505.8" cy="292.8" r="8.15"/><circle cx="1436.5" cy="40.4" r="8.15"/><circle cx="1430.7" cy="37.6" r="8.15"/><circle cx="1427.2" cy="39.9" r="8.15"/><circle cx="1424.6" cy="39.7" r="8.15"/><circle cx="1421.0" cy="42.6" r="8.15"/><circle cx="1415.9" cy="41.2" r="8.15"/><circle cx="1414.0" cy="44.2" r="8.15"/><circle cx="1408.4" cy="47.4" r="8.15"/><circle cx="1395.9" cy="51.1" r="8.15"/><circle cx="1329.4" cy="160.0" r="8.15"/><circle cx="1261.4" cy="205.6" r="8.15"/><circle cx="1226.5" cy="224.3" r="8.15"/><circle cx="1242.7" cy="223.0" r="8.15"/><circle cx="1252.7" cy="233.8" r="8.15"/><circle cx="1201.1" cy="234.3" r="8.15"/><circle cx="1188.4" cy="244.2" r="8.15"/><circle cx="1171.7" cy="253.7" r="8.15"/><circle cx="1179.2" cy="259.2" r="8.15"/><circle cx="1246.5" cy="204.4" r="8.15"/><circle cx="1383.5" cy="58.8" r="8.15"/><circle cx="1379.5" cy="64.6" r="8.15"/><circle cx="1378.1" cy="69.1" r="8.15"/><circle cx="1377.3" cy="71.1" r="8.15"/><circle cx="1367.3" cy="79.5" r="8.15"/><circle cx="1365.7" cy="85.2" r="8.15"/><circle cx="1367.6" cy="92.4" r="8.15"/><circle cx="1364.8" cy="94.2" r="8.15"/><circle cx="1365.6" cy="101.2" r="8.15"/><circle cx="1365.7" cy="100.6" r="8.15"/><circle cx="1365.8" cy="106.4" r="8.15"/><circle cx="1370.5" cy="112.8" r="8.15"/><circle cx="1370.5" cy="118.0" r="8.15"/><circle cx="1372.4" cy="119.2" r="8.15"/><circle cx="1369.5" cy="126.8" r="8.15"/><circle cx="1371.8" cy="126.4" r="8.15"/><circle cx="1371.0" cy="132.3" r="8.15"/><circle cx="1369.2" cy="136.2" r="8.15"/><circle cx="1366.9" cy="137.9" r="8.15"/><circle cx="1366.2" cy="143.0" r="8.15"/><circle cx="1366.0" cy="147.1" r="8.15"/><circle cx="1299.8" cy="161.4" r="8.15"/><circle cx="1296.4" cy="162.7" r="8.15"/><circle cx="1290.0" cy="166.7" r="8.15"/><circle cx="1288.9" cy="165.7" r="8.15"/><circle cx="1281.6" cy="166.9" r="8.15"/><circle cx="1279.8" cy="170.3" r="8.15"/><circle cx="1275.4" cy="168.8" r="8.15"/><circle cx="1275.5" cy="168.4" r="8.15"/><circle cx="1269.7" cy="173.5" r="8.15"/><circle cx="1270.6" cy="173.8" r="8.15"/><circle cx="1266.1" cy="178.1" r="8.15"/><circle cx="1269.7" cy="183.2" r="8.15"/><circle cx="1266.8" cy="189.7" r="8.15"/><circle cx="1262.7" cy="189.9" r="8.15"/><circle cx="1263.7" cy="195.0" r="8.15"/><circle cx="1256.1" cy="197.1" r="8.15"/><circle cx="1252.2" cy="196.6" r="8.15"/><circle cx="1246.5" cy="200.7" r="8.15"/><circle cx="1248.5" cy="203.2" r="8.15"/><circle cx="1244.0" cy="205.6" r="8.15"/><circle cx="1149.2" cy="269.9" r="8.15"/><circle cx="1148.0" cy="279.9" r="8.15"/><circle cx="1149.2" cy="288.6" r="8.15"/><circle cx="1148.8" cy="289.5" r="8.15"/><circle cx="1153.2" cy="289.0" r="8.15"/><circle cx="1157.6" cy="289.0" r="8.15"/><circle cx="1163.0" cy="290.5" r="8.15"/><circle cx="1166.6" cy="289.8" r="8.15"/><circle cx="1186.2" cy="290.3" r="8.15"/><circle cx="1191.1" cy="290.4" r="8.15"/><circle cx="1193.3" cy="292.0" r="8.15"/><circle cx="1198.3" cy="291.8" r="8.15"/><circle cx="1202.2" cy="292.0" r="8.15"/><circle cx="1206.3" cy="290.3" r="8.15"/><circle cx="1209.2" cy="291.2" r="8.15"/><circle cx="1214.6" cy="292.1" r="8.15"/><circle cx="1217.3" cy="291.4" r="8.15"/><circle cx="1221.9" cy="291.1" r="8.15"/><circle cx="1225.4" cy="290.6" r="8.15"/><circle cx="1230.2" cy="292.1" r="8.15"/><circle cx="1233.2" cy="291.0" r="8.15"/><circle cx="1238.8" cy="292.2" r="8.15"/><circle cx="1241.3" cy="290.2" r="8.15"/><circle cx="1247.1" cy="292.2" r="8.15"/><circle cx="1249.9" cy="290.0" r="8.15"/><circle cx="1255.0" cy="290.8" r="8.15"/><circle cx="1258.9" cy="291.4" r="8.15"/><circle cx="1262.7" cy="290.3" r="8.15"/><circle cx="1266.5" cy="290.4" r="8.15"/><circle cx="1269.6" cy="291.9" r="8.15"/><circle cx="1273.8" cy="291.1" r="8.15"/><circle cx="1993.0" cy="40.6" r="8.15"/><circle cx="1987.1" cy="38.7" r="8.15"/><circle cx="1981.4" cy="40.5" r="8.15"/><circle cx="1979.5" cy="39.6" r="8.15"/><circle cx="1975.8" cy="40.2" r="8.15"/><circle cx="1972.8" cy="41.6" r="8.15"/><circle cx="1966.0" cy="42.5" r="8.15"/><circle cx="1962.9" cy="41.2" r="8.15"/><circle cx="1957.9" cy="46.2" r="8.15"/><circle cx="1916.8" cy="51.1" r="8.15"/><circle cx="1933.0" cy="61.1" r="8.15"/><circle cx="1928.0" cy="69.8" r="8.15"/><circle cx="1884.4" cy="159.5" r="8.15"/><circle cx="1893.1" cy="164.5" r="8.15"/><circle cx="1855.8" cy="164.5" r="8.15"/><circle cx="1825.9" cy="175.7" r="8.15"/><circle cx="1806.0" cy="205.6" r="8.15"/><circle cx="1791.0" cy="205.6" r="8.15"/><circle cx="1767.3" cy="223.0" r="8.15"/><circle cx="1793.5" cy="223.0" r="8.15"/><circle cx="1825.4" cy="233.5" r="8.15"/><circle cx="1783.5" cy="253.7" r="8.15"/><circle cx="1737.9" cy="224.3" r="8.15"/><circle cx="1737.4" cy="234.3" r="8.15"/><circle cx="1732.5" cy="243.0" r="8.15"/><circle cx="1698.3" cy="254.2" r="8.15"/><circle cx="1708.8" cy="259.2" r="8.15"/><circle cx="1915.8" cy="81.2" r="8.15"/><circle cx="1916.8" cy="84.3" r="8.15"/><circle cx="1914.2" cy="91.6" r="8.15"/><circle cx="1913.1" cy="95.0" r="8.15"/><circle cx="1918.4" cy="96.7" r="8.15"/><circle cx="1915.3" cy="102.8" r="8.15"/><circle cx="1917.5" cy="106.7" r="8.15"/><circle cx="1919.6" cy="108.1" r="8.15"/><circle cx="1918.8" cy="112.8" r="8.15"/><circle cx="1919.1" cy="119.9" r="8.15"/><circle cx="1924.5" cy="123.2" r="8.15"/><circle cx="1921.4" cy="127.6" r="8.15"/><circle cx="1925.9" cy="129.4" r="8.15"/><circle cx="1926.7" cy="133.1" r="8.15"/><circle cx="1920.4" cy="134.5" r="8.15"/><circle cx="1916.7" cy="137.3" r="8.15"/><circle cx="1916.0" cy="143.9" r="8.15"/><circle cx="1915.6" cy="145.8" r="8.15"/><circle cx="1841.8" cy="167.5" r="8.15"/><circle cx="1838.2" cy="164.3" r="8.15"/><circle cx="1833.6" cy="164.8" r="8.15"/><circle cx="1831.1" cy="164.9" r="8.15"/><circle cx="1824.7" cy="165.2" r="8.15"/><circle cx="1824.9" cy="166.0" r="8.15"/><circle cx="1821.1" cy="167.9" r="8.15"/><circle cx="1814.7" cy="171.9" r="8.15"/><circle cx="1815.9" cy="179.2" r="8.15"/><circle cx="1814.7" cy="179.8" r="8.15"/><circle cx="1814.1" cy="183.6" r="8.15"/><circle cx="1809.6" cy="189.8" r="8.15"/><circle cx="1810.3" cy="192.0" r="8.15"/><circle cx="1809.3" cy="196.8" r="8.15"/><circle cx="1804.6" cy="197.3" r="8.15"/><circle cx="1802.0" cy="198.7" r="8.15"/><circle cx="1796.9" cy="199.2" r="8.15"/><circle cx="1793.8" cy="198.4" r="8.15"/><circle cx="1788.6" cy="201.2" r="8.15"/><circle cx="1784.5" cy="203.9" r="8.15"/><circle cx="1781.4" cy="200.7" r="8.15"/><circle cx="1779.8" cy="204.4" r="8.15"/><circle cx="1691.7" cy="269.9" r="8.15"/><circle cx="1690.5" cy="279.9" r="8.15"/><circle cx="1661.8" cy="289.8" r="8.15"/><circle cx="1691.4" cy="289.2" r="8.15"/><circle cx="1694.7" cy="288.7" r="8.15"/><circle cx="1697.3" cy="289.4" r="8.15"/><circle cx="1700.9" cy="288.9" r="8.15"/><circle cx="1705.2" cy="288.8" r="8.15"/><circle cx="1709.0" cy="290.6" r="8.15"/><circle cx="1712.9" cy="290.3" r="8.15"/><circle cx="1727.6" cy="291.1" r="8.15"/><circle cx="1731.4" cy="291.0" r="8.15"/><circle cx="1734.2" cy="291.3" r="8.15"/><circle cx="1738.8" cy="291.6" r="8.15"/><circle cx="1743.9" cy="290.8" r="8.15"/><circle cx="1747.1" cy="291.6" r="8.15"/><circle cx="1750.7" cy="290.3" r="8.15"/><circle cx="1755.4" cy="291.9" r="8.15"/><circle cx="1759.5" cy="291.4" r="8.15"/><circle cx="1763.7" cy="291.3" r="8.15"/><circle cx="1767.1" cy="290.8" r="8.15"/><circle cx="1770.3" cy="291.2" r="8.15"/><circle cx="1773.7" cy="290.7" r="8.15"/><circle cx="1779.4" cy="291.3" r="8.15"/><circle cx="1783.0" cy="290.2" r="8.15"/><circle cx="1786.4" cy="290.7" r="8.15"/><circle cx="1790.9" cy="290.6" r="8.15"/><circle cx="1795.0" cy="291.8" r="8.15"/><circle cx="1797.8" cy="291.1" r="8.15"/><circle cx="1803.2" cy="290.5" r="8.15"/><circle cx="1806.4" cy="291.8" r="8.15"/><circle cx="1809.3" cy="290.8" r="8.15"/><circle cx="1813.6" cy="291.3" r="8.15"/><circle cx="1819.4" cy="290.7" r="8.15"/><circle cx="1821.4" cy="290.8" r="8.15"/><circle cx="1826.4" cy="291.1" r="8.15"/><circle cx="1830.3" cy="290.9" r="8.15"/><circle cx="1834.2" cy="290.6" r="8.15"/>
</g>
<g fill="#ffff66" stroke="#6e6e6e" stroke-width="0.9">
<path d="M168.5 357.6L180.1 369.2L168.5 380.8L156.9 369.2Z"/>
<path d="M168.5 347.0L180.1 358.6L168.5 370.2L156.9 358.6Z"/>
<path d="M168.5 335.6L180.1 347.2L168.5 358.8L156.9 347.2Z"/>
<path d="M168.5 325.5L180.1 337.1L168.5 348.7L156.9 337.1Z"/>
<path d="M168.5 303.3L180.1 314.9L168.5 326.5L156.9 314.9Z"/>
<path d="M168.5 271.2L180.1 282.8L168.5 294.4L156.9 282.8Z"/>
<path d="M168.5 280.2L180.1 291.8L168.5 303.4L156.9 291.8Z"/>
<path d="M168.5 261.7L180.1 273.3L168.5 284.9L156.9 273.3Z"/>
</g>
<g fill="#ff9933" stroke="#6e6e6e" stroke-width="0.9">
<path d="M217.7 411.4L229.29999999999998 423.0L217.7 434.6L206.1 423.0Z"/>
<path d="M217.7 379.7L229.29999999999998 391.3L217.7 402.9L206.1 391.3Z"/>
<path d="M217.7 385.4L229.29999999999998 397.0L217.7 408.6L206.1 397.0Z"/>
<path d="M217.7 353.7L229.29999999999998 365.3L217.7 376.9L206.1 365.3Z"/>
<path d="M217.7 345.1L229.29999999999998 356.7L217.7 368.3L206.1 356.7Z"/>
<path d="M217.7 336.1L229.29999999999998 347.7L217.7 359.3L206.1 347.7Z"/>
</g>
<g fill="#ff0000" stroke="#6e6e6e" stroke-width="0.9">
<path d="M266.8 426.6L278.40000000000003 438.2L266.8 449.8L255.20000000000002 438.2Z"/>
<path d="M266.8 385.4L278.40000000000003 397.0L266.8 408.6L255.20000000000002 397.0Z"/>
<path d="M266.8 376.4L278.40000000000003 388.0L266.8 399.6L255.20000000000002 388.0Z"/>
<path d="M266.8 369.6L278.40000000000003 381.2L266.8 392.8L255.20000000000002 381.2Z"/>
<path d="M266.8 360.5L278.40000000000003 372.1L266.8 383.7L255.20000000000002 372.1Z"/>
<path d="M266.8 340.2L278.40000000000003 351.8L266.8 363.4L255.20000000000002 351.8Z"/>
<path d="M266.8 331.1L278.40000000000003 342.7L266.8 354.3L255.20000000000002 342.7Z"/>
<path d="M266.8 325.4L278.40000000000003 337.0L266.8 348.6L255.20000000000002 337.0Z"/>
<path d="M266.8 316.4L278.40000000000003 328.0L266.8 339.6L255.20000000000002 328.0Z"/>
<path d="M266.8 305.1L278.40000000000003 316.7L266.8 328.3L255.20000000000002 316.7Z"/>
<path d="M266.8 300.6L278.40000000000003 312.2L266.8 323.8L255.20000000000002 312.2Z"/>
<path d="M266.8 294.9L278.40000000000003 306.5L266.8 318.1L255.20000000000002 306.5Z"/>
</g>
<g fill="#808080" stroke="#777" stroke-width="0.9">
<path d="M315.1 677.1L326.70000000000005 688.7L315.1 700.3L303.5 688.7Z"/>
<path d="M315.1 524.1L326.70000000000005 535.7L315.1 547.3L303.5 535.7Z"/>
<path d="M315.1 519.1L326.70000000000005 530.7L315.1 542.3L303.5 530.7Z"/>
<path d="M315.1 507.9L326.70000000000005 519.5L315.1 531.1L303.5 519.5Z"/>
</g>
<path d="M97.3 3.87 H121.4 V828.8 H97.3 M97.3 62.78 H121.4 M97.3 121.69 H121.4 M84.3 180.60 H121.4 M97.3 239.51 H121.4 M97.3 298.42 H121.4 M97.3 357.33 H121.4 M97.3 416.24 H121.4 M84.3 475.15 H121.4 M97.3 534.06 H121.4 M97.3 592.97 H121.4 M97.3 651.88 H121.4 M97.3 710.79 H121.4 M84.3 769.70 H121.4 M131.6 828.8 H352.4 M169 828.8 V852.5 M217.7 828.8 V852.5 M266.4 828.8 V852.5 M315.2 828.8 V852.5 M367.37 852.5 V828.8 H869.21 V852.5 M430.10 828.8 V867.0 M492.83 828.8 V852.5 M555.56 828.8 V867.0 M618.29 828.8 V852.5 M681.02 828.8 V867.0 M743.75 828.8 V852.5 M806.48 828.8 V867.0 M934.38 852.5 V828.8 H1422.42 V867.0 M1004.10 828.8 V867.0 M1073.82 828.8 V852.5 M1143.54 828.8 V867.0 M1213.26 828.8 V852.5 M1282.98 828.8 V867.0 M1352.70 828.8 V852.5 M1483.20 867.0 V828.8 H1985.20 V867.0 M1545.95 828.8 V852.5 M1608.70 828.8 V867.0 M1671.45 828.8 V852.5 M1734.20 828.8 V867.0 M1796.95 828.8 V852.5 M1859.70 828.8 V867.0 M1922.45 828.8 V852.5" fill="none" stroke="#000" stroke-width="2.9" stroke-linecap="round" stroke-linejoin="round"/>
<text x="73.5" y="178.0" font-size="35" text-anchor="middle" stroke="#000" stroke-width="0.45" textLength="58.5" lengthAdjust="spacingAndGlyphs" transform="rotate(-90 73.5 178.0)" >300</text>
<text x="73.5" y="473.5" font-size="35" text-anchor="middle" stroke="#000" stroke-width="0.45" textLength="58.5" lengthAdjust="spacingAndGlyphs" transform="rotate(-90 73.5 473.5)" >400</text>
<text x="73.5" y="767.7" font-size="35" text-anchor="middle" stroke="#000" stroke-width="0.45" textLength="58.5" lengthAdjust="spacingAndGlyphs" transform="rotate(-90 73.5 767.7)" >500</text>
<text x="29.6" y="420.5" font-size="35" text-anchor="middle" font-weight="bold" textLength="263" lengthAdjust="spacingAndGlyphs" transform="rotate(-90 29.6 420.5)" >water depth (m)</text>
<text x="243.8" y="46.7" font-size="35" text-anchor="middle" font-weight="bold" textLength="184" lengthAdjust="spacingAndGlyphs" >live records</text>
<text x="243.3" y="84.9" font-size="35" text-anchor="middle" font-weight="bold" font-style="italic" textLength="182" lengthAdjust="spacingAndGlyphs" >Madrepora</text>
<text x="243.3" y="123" font-size="35" text-anchor="middle" font-weight="bold" font-style="italic" textLength="120" lengthAdjust="spacingAndGlyphs" >oculata</text>
<text x="169" y="820.9" font-size="27" text-anchor="middle" stroke="#000" stroke-width="0.45" textLength="48" lengthAdjust="spacingAndGlyphs" >(30)</text>
<text x="217.7" y="820.9" font-size="27" text-anchor="middle" stroke="#000" stroke-width="0.45" textLength="34" lengthAdjust="spacingAndGlyphs" >(8)</text>
<text x="266.4" y="820.9" font-size="27" text-anchor="middle" stroke="#000" stroke-width="0.45" textLength="48" lengthAdjust="spacingAndGlyphs" >(39)</text>
<text x="315.2" y="820.9" font-size="27" text-anchor="middle" stroke="#000" stroke-width="0.45" textLength="34" lengthAdjust="spacingAndGlyphs" >(6)</text>
<text x="184.5" y="875.5" font-size="30" text-anchor="end" stroke="#000" stroke-width="0.45" textLength="84" lengthAdjust="spacingAndGlyphs" transform="rotate(-48.5 184.5 875.5)" >Castle</text>
<text x="233.2" y="875.5" font-size="30" text-anchor="end" stroke="#000" stroke-width="0.45" textLength="73" lengthAdjust="spacingAndGlyphs" transform="rotate(-48.5 233.2 875.5)" >Scary</text>
<text x="281.9" y="875.5" font-size="30" text-anchor="end" stroke="#000" stroke-width="0.45" textLength="96" lengthAdjust="spacingAndGlyphs" transform="rotate(-48.5 281.9 875.5)" >Buffalo</text>
<text x="330.7" y="875.5" font-size="30" text-anchor="end" stroke="#000" stroke-width="0.45" textLength="133" lengthAdjust="spacingAndGlyphs" transform="rotate(-48.5 330.7 875.5)" >Valentine</text>
<text x="430.1" y="901.2" font-size="35" text-anchor="middle" stroke="#000" stroke-width="0.45" textLength="49.5" lengthAdjust="spacingAndGlyphs" >0.6</text>
<text x="555.6" y="901.2" font-size="35" text-anchor="middle" stroke="#000" stroke-width="0.45" textLength="49.5" lengthAdjust="spacingAndGlyphs" >0.8</text>
<text x="683.5" y="901.2" font-size="35" text-anchor="middle" stroke="#000" stroke-width="0.45" >1</text>
<text x="806.5" y="901.2" font-size="35" text-anchor="middle" stroke="#000" stroke-width="0.45" textLength="49.5" lengthAdjust="spacingAndGlyphs" >1.2</text>
<text x="1004.1" y="901.2" font-size="35" text-anchor="middle" stroke="#000" stroke-width="0.45" >8</text>
<text x="1141.5" y="901.2" font-size="35" text-anchor="middle" stroke="#000" stroke-width="0.45" textLength="38.5" lengthAdjust="spacingAndGlyphs" >10</text>
<text x="1281.0" y="901.2" font-size="35" text-anchor="middle" stroke="#000" stroke-width="0.45" textLength="38.5" lengthAdjust="spacingAndGlyphs" >12</text>
<text x="1407.2" y="901.2" font-size="35" text-anchor="middle" stroke="#000" stroke-width="0.45" textLength="38.5" lengthAdjust="spacingAndGlyphs" >14</text>
<text x="1496.8" y="901.2" font-size="35" text-anchor="middle" stroke="#000" stroke-width="0.45" textLength="69" lengthAdjust="spacingAndGlyphs" >34.6</text>
<text x="1734.2" y="901.2" font-size="35" text-anchor="middle" stroke="#000" stroke-width="0.45" textLength="38.5" lengthAdjust="spacingAndGlyphs" >35</text>
<text x="1971.5" y="901.2" font-size="35" text-anchor="middle" stroke="#000" stroke-width="0.45" textLength="69" lengthAdjust="spacingAndGlyphs" >35.4</text>
<text x="536" y="945.7" font-size="34.5" font-weight="bold" textLength="164.5" lengthAdjust="spacingAndGlyphs">DO (mL L<tspan font-size="18" dy="-13">-1</tspan><tspan dy="13">)</tspan></text>
<text x="1180.6" y="945.7" font-size="34.5" text-anchor="middle" font-weight="bold" textLength="270" lengthAdjust="spacingAndGlyphs" >temperature (°C)</text>
<text x="1735.6" y="945.7" font-size="34.5" text-anchor="middle" font-weight="bold" textLength="116" lengthAdjust="spacingAndGlyphs" >salinity</text>
<rect x="1726.3" y="490" width="262" height="320" fill="#fff"/>
<rect x="1729.5" y="496" width="255.9000000000001" height="310.4" fill="#fff" stroke="#000" stroke-width="2.6"/>
<text x="1748.2" y="537.6" font-size="34.5" text-anchor="start" font-weight="bold" textLength="223" lengthAdjust="spacingAndGlyphs" >ROV-CTD data</text>
<rect x="1749.5" y="551.5" width="25.5" height="25.5" fill="#33cc99" stroke="#585858" stroke-width="1.8"/>
<text x="1791.2" y="576.6" font-size="35" text-anchor="start" stroke="#000" stroke-width="0.45" textLength="80.5" lengthAdjust="spacingAndGlyphs" >Anna</text>
<rect x="1749.5" y="592.6" width="25.5" height="25.5" fill="#6699ff" stroke="#585858" stroke-width="1.8"/>
<text x="1791.2" y="618.0" font-size="35" text-anchor="start" stroke="#000" stroke-width="0.45" textLength="92" lengthAdjust="spacingAndGlyphs" >Snake</text>
<rect x="1749.5" y="633.7" width="25.5" height="25.5" fill="#ffff66" stroke="#585858" stroke-width="1.8"/>
<text x="1791.2" y="659.4" font-size="35" text-anchor="start" stroke="#000" stroke-width="0.45" textLength="93.4" lengthAdjust="spacingAndGlyphs" >Castle</text>
<rect x="1749.5" y="674.8" width="25.5" height="25.5" fill="#ff9933" stroke="#585858" stroke-width="1.8"/>
<text x="1791.2" y="700.8" font-size="35" text-anchor="start" stroke="#000" stroke-width="0.45" textLength="82" lengthAdjust="spacingAndGlyphs" >Scary</text>
<rect x="1749.5" y="715.9" width="25.5" height="25.5" fill="#ff0000" stroke="#585858" stroke-width="1.8"/>
<text x="1791.2" y="742.2" font-size="35" text-anchor="start" stroke="#000" stroke-width="0.45" textLength="107" lengthAdjust="spacingAndGlyphs" >Buffalo</text>
<rect x="1749.5" y="757.0" width="25.5" height="25.5" fill="#808080" stroke="#585858" stroke-width="1.8"/>
<text x="1791.2" y="783.6" font-size="35" text-anchor="start" stroke="#000" stroke-width="0.45" textLength="146.5" lengthAdjust="spacingAndGlyphs" >Valentine</text>
</svg>
</body>
</html>
